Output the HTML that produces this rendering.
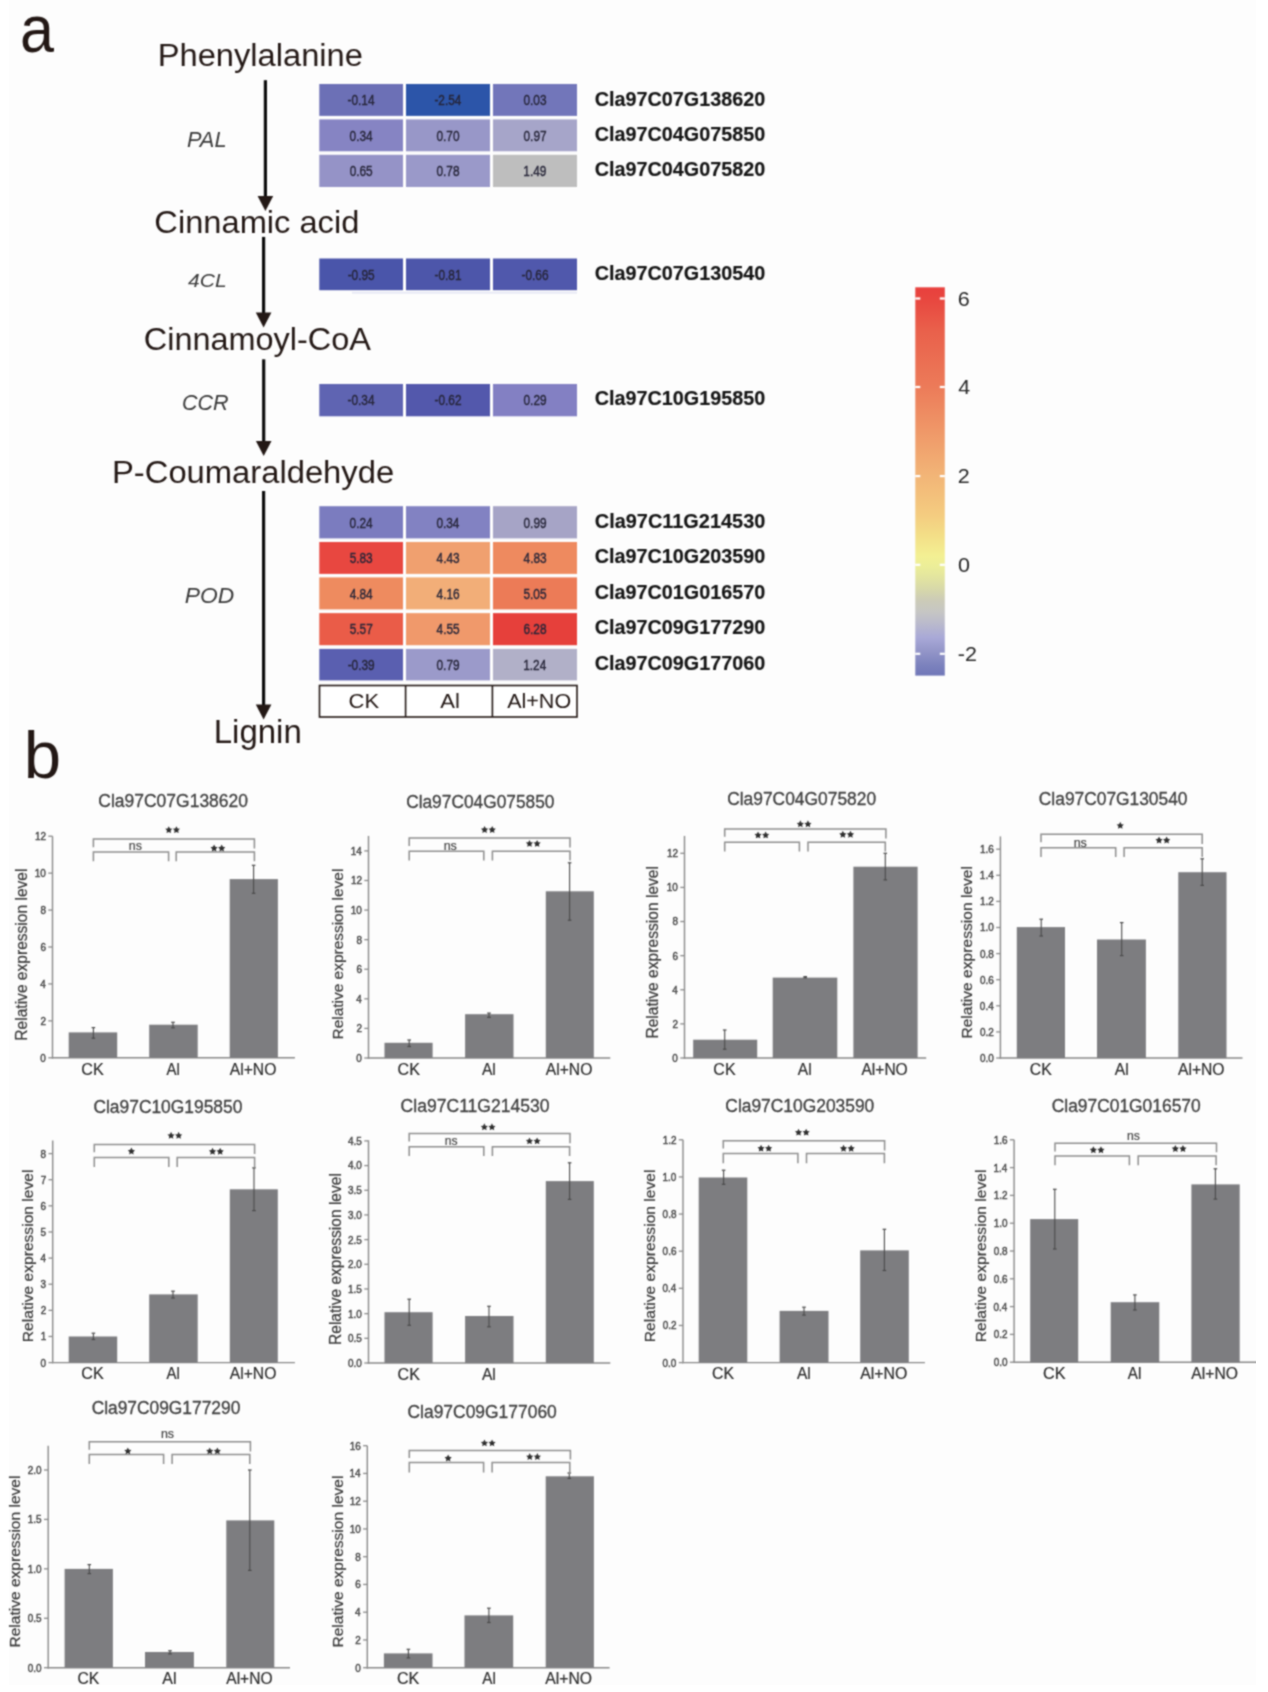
<!DOCTYPE html>
<html><head><meta charset="utf-8"><title>Figure</title>
<style>
html,body{margin:0;padding:0;background:#ffffff;}
svg{display:block;}
text{font-family:"Liberation Sans", sans-serif;}
</style></head>
<body>
<svg width="1268" height="1692" viewBox="0 0 1268 1692">
<rect x="0" y="0" width="1268" height="1692" fill="#ffffff"/>
<rect x="9" y="0" width="1247" height="1685" fill="#fdfdfd"/>
<defs><filter id="soft" x="0" y="0" width="1" height="1" color-interpolation-filters="sRGB"><feConvolveMatrix order="3" kernelMatrix="1 2 1 2 6.0 2 1 2 1" divisor="18.0" edgeMode="duplicate" preserveAlpha="false"/></filter></defs>
<g filter="url(#soft)">
<text x="20.10" y="52.00" font-size="66.50" font-weight="normal" font-style="normal" fill="#231815" textLength="33.97" lengthAdjust="spacingAndGlyphs">a</text>
<text x="23.84" y="778.00" font-size="66.50" font-weight="normal" font-style="normal" fill="#231815" textLength="37.33" lengthAdjust="spacingAndGlyphs">b</text>
<text x="157.71" y="66.30" font-size="31.27" font-weight="normal" font-style="normal" fill="#231815" textLength="205.20" lengthAdjust="spacingAndGlyphs">Phenylalanine</text>
<text x="154.37" y="232.60" font-size="32.15" font-weight="normal" font-style="normal" fill="#231815" textLength="204.99" lengthAdjust="spacingAndGlyphs">Cinnamic acid</text>
<text x="143.78" y="350.40" font-size="32.15" font-weight="normal" font-style="normal" fill="#231815" textLength="227.21" lengthAdjust="spacingAndGlyphs">Cinnamoyl-CoA</text>
<text x="112.00" y="482.50" font-size="31.42" font-weight="normal" font-style="normal" fill="#231815" textLength="282.12" lengthAdjust="spacingAndGlyphs">P-Coumaraldehyde</text>
<text x="213.78" y="742.80" font-size="32.73" font-weight="normal" font-style="normal" fill="#231815" textLength="88.02" lengthAdjust="spacingAndGlyphs">Lignin</text>
<text x="186.95" y="146.80" font-size="21.82" font-weight="normal" font-style="italic" fill="#3a3a3a" textLength="39.60" lengthAdjust="spacingAndGlyphs">PAL</text>
<text x="188.14" y="287.00" font-size="18.76" font-weight="normal" font-style="italic" fill="#3a3a3a" textLength="38.57" lengthAdjust="spacingAndGlyphs">4CL</text>
<text x="182.02" y="410.20" font-size="21.24" font-weight="normal" font-style="italic" fill="#3a3a3a" textLength="46.61" lengthAdjust="spacingAndGlyphs">CCR</text>
<text x="184.82" y="602.60" font-size="21.67" font-weight="normal" font-style="italic" fill="#3a3a3a" textLength="49.41" lengthAdjust="spacingAndGlyphs">POD</text>
<rect x="263.80" y="80.20" width="3.20" height="117.80" fill="#0d0d0d"/>
<path d="M257.60,196.00 L273.20,196.00 L265.40,211.00 Z" fill="#231815" stroke="none" stroke-width="1"/>
<rect x="262.00" y="236.90" width="3.20" height="77.60" fill="#0d0d0d"/>
<path d="M255.80,312.50 L271.40,312.50 L263.60,327.50 Z" fill="#231815" stroke="none" stroke-width="1"/>
<rect x="262.10" y="359.30" width="3.20" height="83.70" fill="#0d0d0d"/>
<path d="M255.90,441.00 L271.50,441.00 L263.70,456.00 Z" fill="#231815" stroke="none" stroke-width="1"/>
<rect x="262.00" y="491.00" width="3.20" height="215.50" fill="#0d0d0d"/>
<path d="M255.80,704.50 L271.40,704.50 L263.60,719.50 Z" fill="#231815" stroke="none" stroke-width="1"/>
<rect x="319.30" y="84.00" width="83.70" height="31.90" fill="#6c70b6"/>
<text x="347.55" y="105.15" font-size="15.00" font-weight="normal" font-style="normal" fill="#262538" textLength="27.01" lengthAdjust="spacingAndGlyphs" stroke="#262538" stroke-width="0.4">-0.14</text>
<rect x="406.00" y="84.00" width="84.00" height="31.90" fill="#2c55a9"/>
<text x="434.40" y="105.15" font-size="15.00" font-weight="normal" font-style="normal" fill="#262538" textLength="27.01" lengthAdjust="spacingAndGlyphs" stroke="#262538" stroke-width="0.4">-2.54</text>
<rect x="493.00" y="84.00" width="84.00" height="31.90" fill="#7276ba"/>
<text x="523.49" y="105.15" font-size="15.00" font-weight="normal" font-style="normal" fill="#262538" textLength="23.06" lengthAdjust="spacingAndGlyphs" stroke="#262538" stroke-width="0.4">0.03</text>
<text x="594.81" y="106.00" font-size="19.30" font-weight="bold" font-style="normal" fill="#141414" textLength="170.49" lengthAdjust="spacingAndGlyphs" stroke="#141414" stroke-width="0.15">Cla97C07G138620</text>
<rect x="319.30" y="119.40" width="83.70" height="31.90" fill="#8684c3"/>
<text x="349.55" y="140.55" font-size="15.00" font-weight="normal" font-style="normal" fill="#262538" textLength="23.06" lengthAdjust="spacingAndGlyphs" stroke="#262538" stroke-width="0.4">0.34</text>
<rect x="406.00" y="119.40" width="84.00" height="31.90" fill="#9897c8"/>
<text x="436.46" y="140.55" font-size="15.00" font-weight="normal" font-style="normal" fill="#262538" textLength="23.06" lengthAdjust="spacingAndGlyphs" stroke="#262538" stroke-width="0.4">0.70</text>
<rect x="493.00" y="119.40" width="84.00" height="31.90" fill="#a6a5c9"/>
<text x="523.54" y="140.55" font-size="15.00" font-weight="normal" font-style="normal" fill="#262538" textLength="23.06" lengthAdjust="spacingAndGlyphs" stroke="#262538" stroke-width="0.4">0.97</text>
<text x="594.81" y="141.00" font-size="19.30" font-weight="bold" font-style="normal" fill="#141414" textLength="170.49" lengthAdjust="spacingAndGlyphs" stroke="#141414" stroke-width="0.15">Cla97C04G075850</text>
<rect x="319.30" y="154.80" width="83.70" height="32.20" fill="#9593c7"/>
<text x="349.63" y="176.10" font-size="15.00" font-weight="normal" font-style="normal" fill="#262538" textLength="23.06" lengthAdjust="spacingAndGlyphs" stroke="#262538" stroke-width="0.4">0.65</text>
<rect x="406.00" y="154.80" width="84.00" height="32.20" fill="#9a99c9"/>
<text x="436.49" y="176.10" font-size="15.00" font-weight="normal" font-style="normal" fill="#262538" textLength="23.06" lengthAdjust="spacingAndGlyphs" stroke="#262538" stroke-width="0.4">0.78</text>
<rect x="493.00" y="154.80" width="84.00" height="32.20" fill="#bebebe"/>
<text x="523.30" y="176.10" font-size="15.00" font-weight="normal" font-style="normal" fill="#262538" textLength="23.06" lengthAdjust="spacingAndGlyphs" stroke="#262538" stroke-width="0.4">1.49</text>
<text x="594.81" y="176.00" font-size="19.30" font-weight="bold" font-style="normal" fill="#141414" textLength="170.49" lengthAdjust="spacingAndGlyphs" stroke="#141414" stroke-width="0.15">Cla97C04G075820</text>
<rect x="319.30" y="258.50" width="83.70" height="31.70" fill="#4a55aa"/>
<text x="347.63" y="279.55" font-size="15.00" font-weight="normal" font-style="normal" fill="#262538" textLength="27.01" lengthAdjust="spacingAndGlyphs" stroke="#262538" stroke-width="0.4">-0.95</text>
<rect x="406.00" y="258.50" width="84.00" height="31.70" fill="#4d56aa"/>
<text x="434.52" y="279.55" font-size="15.00" font-weight="normal" font-style="normal" fill="#262538" textLength="27.01" lengthAdjust="spacingAndGlyphs" stroke="#262538" stroke-width="0.4">-0.81</text>
<rect x="493.00" y="258.50" width="84.00" height="31.70" fill="#5058ac"/>
<text x="521.49" y="279.55" font-size="15.00" font-weight="normal" font-style="normal" fill="#262538" textLength="27.01" lengthAdjust="spacingAndGlyphs" stroke="#262538" stroke-width="0.4">-0.66</text>
<text x="594.81" y="280.20" font-size="19.30" font-weight="bold" font-style="normal" fill="#141414" textLength="170.49" lengthAdjust="spacingAndGlyphs" stroke="#141414" stroke-width="0.15">Cla97C07G130540</text>
<rect x="319.30" y="384.00" width="83.70" height="32.30" fill="#5f64b2"/>
<text x="347.55" y="405.35" font-size="15.00" font-weight="normal" font-style="normal" fill="#262538" textLength="27.01" lengthAdjust="spacingAndGlyphs" stroke="#262538" stroke-width="0.4">-0.34</text>
<rect x="406.00" y="384.00" width="84.00" height="32.30" fill="#5358ac"/>
<text x="434.54" y="405.35" font-size="15.00" font-weight="normal" font-style="normal" fill="#262538" textLength="27.01" lengthAdjust="spacingAndGlyphs" stroke="#262538" stroke-width="0.4">-0.62</text>
<rect x="493.00" y="384.00" width="84.00" height="32.30" fill="#8380c3"/>
<text x="523.51" y="405.35" font-size="15.00" font-weight="normal" font-style="normal" fill="#262538" textLength="23.06" lengthAdjust="spacingAndGlyphs" stroke="#262538" stroke-width="0.4">0.29</text>
<text x="594.81" y="405.00" font-size="19.30" font-weight="bold" font-style="normal" fill="#141414" textLength="170.49" lengthAdjust="spacingAndGlyphs" stroke="#141414" stroke-width="0.15">Cla97C10G195850</text>
<rect x="319.30" y="506.20" width="83.70" height="32.20" fill="#7b7cbf"/>
<text x="349.55" y="527.50" font-size="15.00" font-weight="normal" font-style="normal" fill="#262538" textLength="23.06" lengthAdjust="spacingAndGlyphs" stroke="#262538" stroke-width="0.4">0.24</text>
<rect x="406.00" y="506.20" width="84.00" height="32.20" fill="#8282c2"/>
<text x="436.40" y="527.50" font-size="15.00" font-weight="normal" font-style="normal" fill="#262538" textLength="23.06" lengthAdjust="spacingAndGlyphs" stroke="#262538" stroke-width="0.4">0.34</text>
<rect x="493.00" y="506.20" width="84.00" height="32.20" fill="#a6a4c6"/>
<text x="523.51" y="527.50" font-size="15.00" font-weight="normal" font-style="normal" fill="#262538" textLength="23.06" lengthAdjust="spacingAndGlyphs" stroke="#262538" stroke-width="0.4">0.99</text>
<text x="594.80" y="527.80" font-size="19.30" font-weight="bold" font-style="normal" fill="#141414" textLength="170.50" lengthAdjust="spacingAndGlyphs" stroke="#141414" stroke-width="0.15">Cla97C11G214530</text>
<rect x="319.30" y="542.00" width="83.70" height="31.90" fill="#e84740"/>
<text x="349.64" y="563.15" font-size="15.00" font-weight="normal" font-style="normal" fill="#262538" textLength="23.06" lengthAdjust="spacingAndGlyphs" stroke="#262538" stroke-width="0.4">5.83</text>
<rect x="406.00" y="542.00" width="84.00" height="31.90" fill="#f0a06f"/>
<text x="436.59" y="563.15" font-size="15.00" font-weight="normal" font-style="normal" fill="#262538" textLength="23.06" lengthAdjust="spacingAndGlyphs" stroke="#262538" stroke-width="0.4">4.43</text>
<rect x="493.00" y="542.00" width="84.00" height="31.90" fill="#ee8a5f"/>
<text x="523.59" y="563.15" font-size="15.00" font-weight="normal" font-style="normal" fill="#262538" textLength="23.06" lengthAdjust="spacingAndGlyphs" stroke="#262538" stroke-width="0.4">4.83</text>
<text x="594.81" y="563.40" font-size="19.30" font-weight="bold" font-style="normal" fill="#141414" textLength="170.49" lengthAdjust="spacingAndGlyphs" stroke="#141414" stroke-width="0.15">Cla97C10G203590</text>
<rect x="319.30" y="577.40" width="83.70" height="32.00" fill="#ee8b5f"/>
<text x="349.66" y="598.60" font-size="15.00" font-weight="normal" font-style="normal" fill="#262538" textLength="23.06" lengthAdjust="spacingAndGlyphs" stroke="#262538" stroke-width="0.4">4.84</text>
<rect x="406.00" y="577.40" width="84.00" height="32.00" fill="#f2ae78"/>
<text x="436.59" y="598.60" font-size="15.00" font-weight="normal" font-style="normal" fill="#262538" textLength="23.06" lengthAdjust="spacingAndGlyphs" stroke="#262538" stroke-width="0.4">4.16</text>
<rect x="493.00" y="577.40" width="84.00" height="32.00" fill="#ec7b57"/>
<text x="523.48" y="598.60" font-size="15.00" font-weight="normal" font-style="normal" fill="#262538" textLength="23.06" lengthAdjust="spacingAndGlyphs" stroke="#262538" stroke-width="0.4">5.05</text>
<text x="594.81" y="598.90" font-size="19.30" font-weight="bold" font-style="normal" fill="#141414" textLength="170.49" lengthAdjust="spacingAndGlyphs" stroke="#141414" stroke-width="0.15">Cla97C01G016570</text>
<rect x="319.30" y="613.10" width="83.70" height="32.10" fill="#ea5c48"/>
<text x="349.69" y="634.35" font-size="15.00" font-weight="normal" font-style="normal" fill="#262538" textLength="23.06" lengthAdjust="spacingAndGlyphs" stroke="#262538" stroke-width="0.4">5.57</text>
<rect x="406.00" y="613.10" width="84.00" height="32.10" fill="#f0996b"/>
<text x="436.58" y="634.35" font-size="15.00" font-weight="normal" font-style="normal" fill="#262538" textLength="23.06" lengthAdjust="spacingAndGlyphs" stroke="#262538" stroke-width="0.4">4.55</text>
<rect x="493.00" y="613.10" width="84.00" height="32.10" fill="#e6403b"/>
<text x="523.43" y="634.35" font-size="15.00" font-weight="normal" font-style="normal" fill="#262538" textLength="23.06" lengthAdjust="spacingAndGlyphs" stroke="#262538" stroke-width="0.4">6.28</text>
<text x="594.81" y="634.40" font-size="19.30" font-weight="bold" font-style="normal" fill="#141414" textLength="170.49" lengthAdjust="spacingAndGlyphs" stroke="#141414" stroke-width="0.15">Cla97C09G177290</text>
<rect x="319.30" y="648.90" width="83.70" height="31.50" fill="#5a5fb0"/>
<text x="347.66" y="669.85" font-size="15.00" font-weight="normal" font-style="normal" fill="#262538" textLength="27.01" lengthAdjust="spacingAndGlyphs" stroke="#262538" stroke-width="0.4">-0.39</text>
<rect x="406.00" y="648.90" width="84.00" height="31.50" fill="#9b9aca"/>
<text x="436.51" y="669.85" font-size="15.00" font-weight="normal" font-style="normal" fill="#262538" textLength="23.06" lengthAdjust="spacingAndGlyphs" stroke="#262538" stroke-width="0.4">0.79</text>
<rect x="493.00" y="648.90" width="84.00" height="31.50" fill="#b1b0c8"/>
<text x="523.19" y="669.85" font-size="15.00" font-weight="normal" font-style="normal" fill="#262538" textLength="23.06" lengthAdjust="spacingAndGlyphs" stroke="#262538" stroke-width="0.4">1.24</text>
<text x="594.81" y="669.90" font-size="19.30" font-weight="bold" font-style="normal" fill="#141414" textLength="170.49" lengthAdjust="spacingAndGlyphs" stroke="#141414" stroke-width="0.15">Cla97C09G177060</text>
<line x1="352.00" y1="292.80" x2="577.00" y2="292.80" stroke="#d6d9ee" stroke-width="1.0"/>
<rect x="319.5" y="685.5" width="257.5" height="31.5" fill="#fff" stroke="#231815" stroke-width="1.6"/>
<line x1="405.60" y1="685.50" x2="405.60" y2="717.00" stroke="#231815" stroke-width="1.6"/>
<line x1="492.40" y1="685.50" x2="492.40" y2="717.00" stroke="#231815" stroke-width="1.6"/>
<text x="348.60" y="708.30" font-size="20.50" font-weight="normal" font-style="normal" fill="#231815" textLength="30.56" lengthAdjust="spacingAndGlyphs">CK</text>
<text x="440.24" y="708.30" font-size="20.50" font-weight="normal" font-style="normal" fill="#231815" textLength="19.63" lengthAdjust="spacingAndGlyphs">Al</text>
<text x="507.15" y="708.30" font-size="20.50" font-weight="normal" font-style="normal" fill="#231815" textLength="63.99" lengthAdjust="spacingAndGlyphs">Al+NO</text>
<defs><linearGradient id="cb" x1="0" y1="0" x2="0" y2="1">
<stop offset="0.0000" stop-color="#e8403d"/>
<stop offset="0.0288" stop-color="#e8463f"/>
<stop offset="0.1100" stop-color="#e9604b"/>
<stop offset="0.2568" stop-color="#ec7b59"/>
<stop offset="0.3675" stop-color="#ef9768"/>
<stop offset="0.4860" stop-color="#f2b577"/>
<stop offset="0.5349" stop-color="#f3c07b"/>
<stop offset="0.5864" stop-color="#f4cc80"/>
<stop offset="0.6379" stop-color="#f3de87"/>
<stop offset="0.6920" stop-color="#f3f093"/>
<stop offset="0.7177" stop-color="#ecee98"/>
<stop offset="0.7486" stop-color="#e2e4a0"/>
<stop offset="0.7796" stop-color="#d6d7aa"/>
<stop offset="0.8053" stop-color="#cccbb7"/>
<stop offset="0.8362" stop-color="#c6c6c4"/>
<stop offset="0.8697" stop-color="#b8b8cd"/>
<stop offset="0.9032" stop-color="#a8a8d7"/>
<stop offset="0.9341" stop-color="#9597c9"/>
<stop offset="0.9727" stop-color="#7c82bd"/>
<stop offset="1.0000" stop-color="#7077b8"/>
</linearGradient></defs>
<rect x="915.30" y="287.30" width="29.50" height="388.30" fill="url(#cb)"/>
<rect x="915.30" y="297.40" width="5.00" height="2.20" fill="#ffffff"/>
<rect x="939.80" y="297.40" width="5.00" height="2.20" fill="#ffffff"/>
<text x="957.72" y="305.50" font-size="20.50" font-weight="normal" font-style="normal" fill="#262626" textLength="11.97" lengthAdjust="spacingAndGlyphs">6</text>
<rect x="915.30" y="385.90" width="5.00" height="2.20" fill="#ffffff"/>
<rect x="939.80" y="385.90" width="5.00" height="2.20" fill="#ffffff"/>
<text x="958.32" y="394.00" font-size="20.50" font-weight="normal" font-style="normal" fill="#262626" textLength="11.97" lengthAdjust="spacingAndGlyphs">4</text>
<rect x="915.30" y="475.00" width="5.00" height="2.20" fill="#ffffff"/>
<rect x="939.80" y="475.00" width="5.00" height="2.20" fill="#ffffff"/>
<text x="957.72" y="483.10" font-size="20.50" font-weight="normal" font-style="normal" fill="#262626" textLength="11.97" lengthAdjust="spacingAndGlyphs">2</text>
<rect x="915.30" y="563.70" width="5.00" height="2.20" fill="#ffffff"/>
<rect x="939.80" y="563.70" width="5.00" height="2.20" fill="#ffffff"/>
<text x="957.94" y="571.80" font-size="20.50" font-weight="normal" font-style="normal" fill="#262626" textLength="11.97" lengthAdjust="spacingAndGlyphs">0</text>
<rect x="915.30" y="652.70" width="5.00" height="2.20" fill="#ffffff"/>
<rect x="939.80" y="652.70" width="5.00" height="2.20" fill="#ffffff"/>
<text x="957.83" y="660.80" font-size="20.50" font-weight="normal" font-style="normal" fill="#262626" textLength="19.14" lengthAdjust="spacingAndGlyphs">-2</text>
<text x="98.33" y="807.00" font-size="17.60" font-weight="normal" font-style="normal" fill="#3e3e3e" textLength="149.67" lengthAdjust="spacingAndGlyphs" stroke="#3e3e3e" stroke-width="0.3">Cla97C07G138620</text>
<text transform="translate(27.41,1040.68) rotate(-90)" x="0" y="0" font-size="15.87" fill="#383838" textLength="172.12" lengthAdjust="spacingAndGlyphs" stroke="#383838" stroke-width="0.2">Relative expression level</text>
<line x1="52.50" y1="836.20" x2="52.50" y2="1058.50" stroke="#8a8a8a" stroke-width="1.4"/>
<line x1="51.80" y1="1057.80" x2="294.90" y2="1057.80" stroke="#8a8a8a" stroke-width="1.4"/>
<line x1="48.30" y1="1057.80" x2="52.50" y2="1057.80" stroke="#8a8a8a" stroke-width="1.3"/>
<text x="40.36" y="1061.70" font-size="10.80" font-weight="normal" font-style="normal" fill="#484848" textLength="5.53" lengthAdjust="spacingAndGlyphs" stroke="#484848" stroke-width="0.45">0</text>
<line x1="48.30" y1="1020.87" x2="52.50" y2="1020.87" stroke="#8a8a8a" stroke-width="1.3"/>
<text x="40.48" y="1024.77" font-size="10.80" font-weight="normal" font-style="normal" fill="#484848" textLength="5.53" lengthAdjust="spacingAndGlyphs" stroke="#484848" stroke-width="0.45">2</text>
<line x1="48.30" y1="983.93" x2="52.50" y2="983.93" stroke="#8a8a8a" stroke-width="1.3"/>
<text x="40.26" y="987.83" font-size="10.80" font-weight="normal" font-style="normal" fill="#484848" textLength="5.53" lengthAdjust="spacingAndGlyphs" stroke="#484848" stroke-width="0.45">4</text>
<line x1="48.30" y1="947.00" x2="52.50" y2="947.00" stroke="#8a8a8a" stroke-width="1.3"/>
<text x="40.41" y="950.90" font-size="10.80" font-weight="normal" font-style="normal" fill="#484848" textLength="5.53" lengthAdjust="spacingAndGlyphs" stroke="#484848" stroke-width="0.45">6</text>
<line x1="48.30" y1="910.07" x2="52.50" y2="910.07" stroke="#8a8a8a" stroke-width="1.3"/>
<text x="40.41" y="913.97" font-size="10.80" font-weight="normal" font-style="normal" fill="#484848" textLength="5.53" lengthAdjust="spacingAndGlyphs" stroke="#484848" stroke-width="0.45">8</text>
<line x1="48.30" y1="873.13" x2="52.50" y2="873.13" stroke="#8a8a8a" stroke-width="1.3"/>
<text x="34.84" y="877.03" font-size="10.80" font-weight="normal" font-style="normal" fill="#484848" textLength="11.05" lengthAdjust="spacingAndGlyphs" stroke="#484848" stroke-width="0.45">10</text>
<line x1="48.30" y1="836.20" x2="52.50" y2="836.20" stroke="#8a8a8a" stroke-width="1.3"/>
<text x="34.97" y="840.10" font-size="10.80" font-weight="normal" font-style="normal" fill="#484848" textLength="11.05" lengthAdjust="spacingAndGlyphs" stroke="#484848" stroke-width="0.45">12</text>
<rect x="68.70" y="1032.40" width="48.50" height="25.40" fill="#7d7d80"/>
<rect x="149.20" y="1024.70" width="48.50" height="33.10" fill="#7d7d80"/>
<rect x="229.70" y="879.10" width="48.20" height="178.70" fill="#7d7d80"/>
<line x1="93.40" y1="1027.60" x2="93.40" y2="1038.20" stroke="#4a4a4a" stroke-width="1.1"/>
<line x1="91.60" y1="1027.60" x2="95.20" y2="1027.60" stroke="#4a4a4a" stroke-width="1.2"/>
<line x1="91.60" y1="1038.20" x2="95.20" y2="1038.20" stroke="#4a4a4a" stroke-width="1.2"/>
<line x1="173.00" y1="1022.30" x2="173.00" y2="1027.80" stroke="#4a4a4a" stroke-width="1.1"/>
<line x1="171.20" y1="1022.30" x2="174.80" y2="1022.30" stroke="#4a4a4a" stroke-width="1.2"/>
<line x1="171.20" y1="1027.80" x2="174.80" y2="1027.80" stroke="#4a4a4a" stroke-width="1.2"/>
<line x1="253.60" y1="865.30" x2="253.60" y2="893.30" stroke="#4a4a4a" stroke-width="1.1"/>
<line x1="251.80" y1="865.30" x2="255.40" y2="865.30" stroke="#4a4a4a" stroke-width="1.2"/>
<line x1="251.80" y1="893.30" x2="255.40" y2="893.30" stroke="#4a4a4a" stroke-width="1.2"/>
<path d="M93.40,847.30 L93.40,839.00 L254.40,839.00 L254.40,848.60" fill="none" stroke="#8e8e8e" stroke-width="1.5"/>
<path d="M93.40,861.20 L93.40,851.90 L168.60,851.90 L168.60,861.20" fill="none" stroke="#8e8e8e" stroke-width="1.5"/>
<path d="M176.20,861.20 L176.20,851.90 L254.40,851.90 L254.40,861.20" fill="none" stroke="#8e8e8e" stroke-width="1.5"/>
<polygon points="168.80,826.22 169.92,828.48 172.41,828.85 170.61,830.61 171.03,833.09 168.80,831.92 166.57,833.09 166.99,830.61 165.19,828.85 167.68,828.48" fill="#2e2e2e"/>
<polygon points="176.40,826.22 177.52,828.48 180.01,828.85 178.21,830.61 178.63,833.09 176.40,831.92 174.17,833.09 174.59,830.61 172.79,828.85 175.28,828.48" fill="#2e2e2e"/>
<text x="128.76" y="849.60" font-size="13.00" font-weight="normal" font-style="normal" fill="#444444" textLength="13.08" lengthAdjust="spacingAndGlyphs" stroke="#444444" stroke-width="0.2">ns</text>
<polygon points="214.10,844.57 215.22,846.83 217.71,847.20 215.91,848.96 216.33,851.44 214.10,850.27 211.87,851.44 212.29,848.96 210.49,847.20 212.98,846.83" fill="#2e2e2e"/>
<polygon points="221.70,844.57 222.82,846.83 225.31,847.20 223.51,848.96 223.93,851.44 221.70,850.27 219.47,851.44 219.89,848.96 218.09,847.20 220.58,846.83" fill="#2e2e2e"/>
<text x="81.19" y="1074.60" font-size="16.30" font-weight="normal" font-style="normal" fill="#2c2c2c" textLength="22.50" lengthAdjust="spacingAndGlyphs" stroke="#2c2c2c" stroke-width="0.2">CK</text>
<text x="166.56" y="1074.60" font-size="16.30" font-weight="normal" font-style="normal" fill="#2c2c2c" textLength="13.34" lengthAdjust="spacingAndGlyphs" stroke="#2c2c2c" stroke-width="0.2">Al</text>
<text x="229.76" y="1074.60" font-size="16.30" font-weight="normal" font-style="normal" fill="#2c2c2c" textLength="46.59" lengthAdjust="spacingAndGlyphs" stroke="#2c2c2c" stroke-width="0.2">Al+NO</text>
<text x="406.13" y="808.40" font-size="17.60" font-weight="normal" font-style="normal" fill="#3e3e3e" textLength="148.36" lengthAdjust="spacingAndGlyphs" stroke="#3e3e3e" stroke-width="0.3">Cla97C04G075850</text>
<text transform="translate(342.86,1039.47) rotate(-90)" x="0" y="0" font-size="15.12" fill="#383838" textLength="170.80" lengthAdjust="spacingAndGlyphs" stroke="#383838" stroke-width="0.2">Relative expression level</text>
<line x1="368.50" y1="835.90" x2="368.50" y2="1058.70" stroke="#8a8a8a" stroke-width="1.4"/>
<line x1="367.80" y1="1058.00" x2="610.30" y2="1058.00" stroke="#8a8a8a" stroke-width="1.4"/>
<line x1="364.30" y1="1058.00" x2="368.50" y2="1058.00" stroke="#8a8a8a" stroke-width="1.3"/>
<text x="356.36" y="1061.90" font-size="10.80" font-weight="normal" font-style="normal" fill="#484848" textLength="5.53" lengthAdjust="spacingAndGlyphs" stroke="#484848" stroke-width="0.45">0</text>
<line x1="364.30" y1="1028.41" x2="368.50" y2="1028.41" stroke="#8a8a8a" stroke-width="1.3"/>
<text x="356.48" y="1032.31" font-size="10.80" font-weight="normal" font-style="normal" fill="#484848" textLength="5.53" lengthAdjust="spacingAndGlyphs" stroke="#484848" stroke-width="0.45">2</text>
<line x1="364.30" y1="998.83" x2="368.50" y2="998.83" stroke="#8a8a8a" stroke-width="1.3"/>
<text x="356.26" y="1002.73" font-size="10.80" font-weight="normal" font-style="normal" fill="#484848" textLength="5.53" lengthAdjust="spacingAndGlyphs" stroke="#484848" stroke-width="0.45">4</text>
<line x1="364.30" y1="969.24" x2="368.50" y2="969.24" stroke="#8a8a8a" stroke-width="1.3"/>
<text x="356.41" y="973.14" font-size="10.80" font-weight="normal" font-style="normal" fill="#484848" textLength="5.53" lengthAdjust="spacingAndGlyphs" stroke="#484848" stroke-width="0.45">6</text>
<line x1="364.30" y1="939.66" x2="368.50" y2="939.66" stroke="#8a8a8a" stroke-width="1.3"/>
<text x="356.41" y="943.56" font-size="10.80" font-weight="normal" font-style="normal" fill="#484848" textLength="5.53" lengthAdjust="spacingAndGlyphs" stroke="#484848" stroke-width="0.45">8</text>
<line x1="364.30" y1="910.07" x2="368.50" y2="910.07" stroke="#8a8a8a" stroke-width="1.3"/>
<text x="350.84" y="913.97" font-size="10.80" font-weight="normal" font-style="normal" fill="#484848" textLength="11.05" lengthAdjust="spacingAndGlyphs" stroke="#484848" stroke-width="0.45">10</text>
<line x1="364.30" y1="880.49" x2="368.50" y2="880.49" stroke="#8a8a8a" stroke-width="1.3"/>
<text x="350.97" y="884.39" font-size="10.80" font-weight="normal" font-style="normal" fill="#484848" textLength="11.05" lengthAdjust="spacingAndGlyphs" stroke="#484848" stroke-width="0.45">12</text>
<line x1="364.30" y1="850.90" x2="368.50" y2="850.90" stroke="#8a8a8a" stroke-width="1.3"/>
<text x="350.74" y="854.80" font-size="10.80" font-weight="normal" font-style="normal" fill="#484848" textLength="11.05" lengthAdjust="spacingAndGlyphs" stroke="#484848" stroke-width="0.45">14</text>
<rect x="384.50" y="1042.80" width="48.10" height="15.20" fill="#7d7d80"/>
<rect x="465.10" y="1014.20" width="48.40" height="43.80" fill="#7d7d80"/>
<rect x="545.80" y="891.30" width="48.00" height="166.70" fill="#7d7d80"/>
<line x1="409.20" y1="1040.00" x2="409.20" y2="1046.50" stroke="#4a4a4a" stroke-width="1.1"/>
<line x1="407.40" y1="1040.00" x2="411.00" y2="1040.00" stroke="#4a4a4a" stroke-width="1.2"/>
<line x1="407.40" y1="1046.50" x2="411.00" y2="1046.50" stroke="#4a4a4a" stroke-width="1.2"/>
<line x1="489.00" y1="1013.10" x2="489.00" y2="1017.40" stroke="#4a4a4a" stroke-width="1.1"/>
<line x1="487.20" y1="1013.10" x2="490.80" y2="1013.10" stroke="#4a4a4a" stroke-width="1.2"/>
<line x1="487.20" y1="1017.40" x2="490.80" y2="1017.40" stroke="#4a4a4a" stroke-width="1.2"/>
<line x1="569.60" y1="862.80" x2="569.60" y2="920.20" stroke="#4a4a4a" stroke-width="1.1"/>
<line x1="567.80" y1="862.80" x2="571.40" y2="862.80" stroke="#4a4a4a" stroke-width="1.2"/>
<line x1="567.80" y1="920.20" x2="571.40" y2="920.20" stroke="#4a4a4a" stroke-width="1.2"/>
<path d="M409.20,846.00 L409.20,837.90 L570.00,837.90 L570.00,847.40" fill="none" stroke="#8e8e8e" stroke-width="1.5"/>
<path d="M409.20,860.60 L409.20,851.20 L483.80,851.20 L483.80,860.60" fill="none" stroke="#8e8e8e" stroke-width="1.5"/>
<path d="M492.40,860.60 L492.40,851.20 L570.00,851.20 L570.00,860.60" fill="none" stroke="#8e8e8e" stroke-width="1.5"/>
<polygon points="484.60,826.07 485.72,828.33 488.21,828.70 486.41,830.46 486.83,832.94 484.60,831.77 482.37,832.94 482.79,830.46 480.99,828.70 483.48,828.33" fill="#2e2e2e"/>
<polygon points="492.20,826.07 493.32,828.33 495.81,828.70 494.01,830.46 494.43,832.94 492.20,831.77 489.97,832.94 490.39,830.46 488.59,828.70 491.08,828.33" fill="#2e2e2e"/>
<text x="443.66" y="850.20" font-size="13.00" font-weight="normal" font-style="normal" fill="#444444" textLength="13.20" lengthAdjust="spacingAndGlyphs" stroke="#444444" stroke-width="0.2">ns</text>
<polygon points="529.50,839.97 530.62,842.23 533.11,842.60 531.31,844.36 531.73,846.84 529.50,845.67 527.27,846.84 527.69,844.36 525.89,842.60 528.38,842.23" fill="#2e2e2e"/>
<polygon points="537.10,839.97 538.22,842.23 540.71,842.60 538.91,844.36 539.33,846.84 537.10,845.67 534.87,846.84 535.29,844.36 533.49,842.60 535.98,842.23" fill="#2e2e2e"/>
<text x="397.59" y="1074.90" font-size="16.30" font-weight="normal" font-style="normal" fill="#2c2c2c" textLength="22.39" lengthAdjust="spacingAndGlyphs" stroke="#2c2c2c" stroke-width="0.2">CK</text>
<text x="481.96" y="1074.90" font-size="16.30" font-weight="normal" font-style="normal" fill="#2c2c2c" textLength="13.88" lengthAdjust="spacingAndGlyphs" stroke="#2c2c2c" stroke-width="0.2">Al</text>
<text x="545.76" y="1074.90" font-size="16.30" font-weight="normal" font-style="normal" fill="#2c2c2c" textLength="46.59" lengthAdjust="spacingAndGlyphs" stroke="#2c2c2c" stroke-width="0.2">Al+NO</text>
<text x="727.13" y="804.70" font-size="17.60" font-weight="normal" font-style="normal" fill="#3e3e3e" textLength="148.96" lengthAdjust="spacingAndGlyphs" stroke="#3e3e3e" stroke-width="0.3">Cla97C04G075820</text>
<text transform="translate(658.25,1038.59) rotate(-90)" x="0" y="0" font-size="15.66" fill="#383838" textLength="172.62" lengthAdjust="spacingAndGlyphs" stroke="#383838" stroke-width="0.2">Relative expression level</text>
<line x1="684.50" y1="835.90" x2="684.50" y2="1058.70" stroke="#8a8a8a" stroke-width="1.4"/>
<line x1="683.80" y1="1058.00" x2="926.20" y2="1058.00" stroke="#8a8a8a" stroke-width="1.4"/>
<line x1="680.30" y1="1058.00" x2="684.50" y2="1058.00" stroke="#8a8a8a" stroke-width="1.3"/>
<text x="672.36" y="1061.90" font-size="10.80" font-weight="normal" font-style="normal" fill="#484848" textLength="5.53" lengthAdjust="spacingAndGlyphs" stroke="#484848" stroke-width="0.45">0</text>
<line x1="680.30" y1="1023.88" x2="684.50" y2="1023.88" stroke="#8a8a8a" stroke-width="1.3"/>
<text x="672.48" y="1027.78" font-size="10.80" font-weight="normal" font-style="normal" fill="#484848" textLength="5.53" lengthAdjust="spacingAndGlyphs" stroke="#484848" stroke-width="0.45">2</text>
<line x1="680.30" y1="989.77" x2="684.50" y2="989.77" stroke="#8a8a8a" stroke-width="1.3"/>
<text x="672.26" y="993.67" font-size="10.80" font-weight="normal" font-style="normal" fill="#484848" textLength="5.53" lengthAdjust="spacingAndGlyphs" stroke="#484848" stroke-width="0.45">4</text>
<line x1="680.30" y1="955.65" x2="684.50" y2="955.65" stroke="#8a8a8a" stroke-width="1.3"/>
<text x="672.41" y="959.55" font-size="10.80" font-weight="normal" font-style="normal" fill="#484848" textLength="5.53" lengthAdjust="spacingAndGlyphs" stroke="#484848" stroke-width="0.45">6</text>
<line x1="680.30" y1="921.53" x2="684.50" y2="921.53" stroke="#8a8a8a" stroke-width="1.3"/>
<text x="672.41" y="925.43" font-size="10.80" font-weight="normal" font-style="normal" fill="#484848" textLength="5.53" lengthAdjust="spacingAndGlyphs" stroke="#484848" stroke-width="0.45">8</text>
<line x1="680.30" y1="887.42" x2="684.50" y2="887.42" stroke="#8a8a8a" stroke-width="1.3"/>
<text x="666.84" y="891.32" font-size="10.80" font-weight="normal" font-style="normal" fill="#484848" textLength="11.05" lengthAdjust="spacingAndGlyphs" stroke="#484848" stroke-width="0.45">10</text>
<line x1="680.30" y1="853.30" x2="684.50" y2="853.30" stroke="#8a8a8a" stroke-width="1.3"/>
<text x="666.97" y="857.20" font-size="10.80" font-weight="normal" font-style="normal" fill="#484848" textLength="11.05" lengthAdjust="spacingAndGlyphs" stroke="#484848" stroke-width="0.45">12</text>
<rect x="693.20" y="1039.70" width="64.00" height="18.30" fill="#7d7d80"/>
<rect x="772.70" y="977.60" width="64.60" height="80.40" fill="#7d7d80"/>
<rect x="853.40" y="866.70" width="64.20" height="191.30" fill="#7d7d80"/>
<line x1="724.70" y1="1030.00" x2="724.70" y2="1049.20" stroke="#4a4a4a" stroke-width="1.1"/>
<line x1="722.90" y1="1030.00" x2="726.50" y2="1030.00" stroke="#4a4a4a" stroke-width="1.2"/>
<line x1="722.90" y1="1049.20" x2="726.50" y2="1049.20" stroke="#4a4a4a" stroke-width="1.2"/>
<line x1="805.20" y1="976.60" x2="805.20" y2="977.80" stroke="#4a4a4a" stroke-width="1.1"/>
<line x1="803.40" y1="976.60" x2="807.00" y2="976.60" stroke="#4a4a4a" stroke-width="1.2"/>
<line x1="803.40" y1="977.80" x2="807.00" y2="977.80" stroke="#4a4a4a" stroke-width="1.2"/>
<line x1="885.30" y1="853.30" x2="885.30" y2="879.90" stroke="#4a4a4a" stroke-width="1.1"/>
<line x1="883.50" y1="853.30" x2="887.10" y2="853.30" stroke="#4a4a4a" stroke-width="1.2"/>
<line x1="883.50" y1="879.90" x2="887.10" y2="879.90" stroke="#4a4a4a" stroke-width="1.2"/>
<path d="M724.70,836.80 L724.70,829.10 L885.90,829.10 L885.90,838.60" fill="none" stroke="#8e8e8e" stroke-width="1.5"/>
<path d="M724.70,851.50 L724.70,842.30 L799.40,842.30 L799.40,851.50" fill="none" stroke="#8e8e8e" stroke-width="1.5"/>
<path d="M808.00,851.50 L808.00,842.30 L885.30,842.30 L885.30,851.50" fill="none" stroke="#8e8e8e" stroke-width="1.5"/>
<polygon points="800.35,820.37 801.47,822.63 803.96,823.00 802.16,824.76 802.58,827.24 800.35,826.07 798.12,827.24 798.54,824.76 796.74,823.00 799.23,822.63" fill="#2e2e2e"/>
<polygon points="807.95,820.37 809.07,822.63 811.56,823.00 809.76,824.76 810.18,827.24 807.95,826.07 805.72,827.24 806.14,824.76 804.34,823.00 806.83,822.63" fill="#2e2e2e"/>
<polygon points="758.05,831.47 759.17,833.73 761.66,834.10 759.86,835.86 760.28,838.34 758.05,837.17 755.82,838.34 756.24,835.86 754.44,834.10 756.93,833.73" fill="#2e2e2e"/>
<polygon points="765.65,831.47 766.77,833.73 769.26,834.10 767.46,835.86 767.88,838.34 765.65,837.17 763.42,838.34 763.84,835.86 762.04,834.10 764.53,833.73" fill="#2e2e2e"/>
<polygon points="842.85,830.77 843.97,833.03 846.46,833.40 844.66,835.16 845.08,837.64 842.85,836.47 840.62,837.64 841.04,835.16 839.24,833.40 841.73,833.03" fill="#2e2e2e"/>
<polygon points="850.45,830.77 851.57,833.03 854.06,833.40 852.26,835.16 852.68,837.64 850.45,836.47 848.22,837.64 848.64,835.16 846.84,833.40 849.33,833.03" fill="#2e2e2e"/>
<text x="713.30" y="1074.80" font-size="16.30" font-weight="normal" font-style="normal" fill="#2c2c2c" textLength="22.29" lengthAdjust="spacingAndGlyphs" stroke="#2c2c2c" stroke-width="0.2">CK</text>
<text x="797.86" y="1074.80" font-size="16.30" font-weight="normal" font-style="normal" fill="#2c2c2c" textLength="13.88" lengthAdjust="spacingAndGlyphs" stroke="#2c2c2c" stroke-width="0.2">Al</text>
<text x="861.46" y="1074.80" font-size="16.30" font-weight="normal" font-style="normal" fill="#2c2c2c" textLength="46.29" lengthAdjust="spacingAndGlyphs" stroke="#2c2c2c" stroke-width="0.2">Al+NO</text>
<text x="1038.83" y="804.70" font-size="17.60" font-weight="normal" font-style="normal" fill="#3e3e3e" textLength="148.66" lengthAdjust="spacingAndGlyphs" stroke="#3e3e3e" stroke-width="0.3">Cla97C07G130540</text>
<text transform="translate(971.80,1038.59) rotate(-90)" x="0" y="0" font-size="15.44" fill="#383838" textLength="172.62" lengthAdjust="spacingAndGlyphs" stroke="#383838" stroke-width="0.2">Relative expression level</text>
<line x1="1000.40" y1="836.40" x2="1000.40" y2="1058.70" stroke="#8a8a8a" stroke-width="1.4"/>
<line x1="999.70" y1="1058.00" x2="1242.50" y2="1058.00" stroke="#8a8a8a" stroke-width="1.4"/>
<line x1="996.20" y1="1058.00" x2="1000.40" y2="1058.00" stroke="#8a8a8a" stroke-width="1.3"/>
<text x="979.96" y="1061.90" font-size="10.80" font-weight="normal" font-style="normal" fill="#484848" textLength="13.81" lengthAdjust="spacingAndGlyphs" stroke="#484848" stroke-width="0.45">0.0</text>
<line x1="996.20" y1="1031.90" x2="1000.40" y2="1031.90" stroke="#8a8a8a" stroke-width="1.3"/>
<text x="980.09" y="1035.80" font-size="10.80" font-weight="normal" font-style="normal" fill="#484848" textLength="13.81" lengthAdjust="spacingAndGlyphs" stroke="#484848" stroke-width="0.45">0.2</text>
<line x1="996.20" y1="1005.80" x2="1000.40" y2="1005.80" stroke="#8a8a8a" stroke-width="1.3"/>
<text x="979.86" y="1009.70" font-size="10.80" font-weight="normal" font-style="normal" fill="#484848" textLength="13.81" lengthAdjust="spacingAndGlyphs" stroke="#484848" stroke-width="0.45">0.4</text>
<line x1="996.20" y1="979.70" x2="1000.40" y2="979.70" stroke="#8a8a8a" stroke-width="1.3"/>
<text x="980.01" y="983.60" font-size="10.80" font-weight="normal" font-style="normal" fill="#484848" textLength="13.81" lengthAdjust="spacingAndGlyphs" stroke="#484848" stroke-width="0.45">0.6</text>
<line x1="996.20" y1="953.60" x2="1000.40" y2="953.60" stroke="#8a8a8a" stroke-width="1.3"/>
<text x="980.01" y="957.50" font-size="10.80" font-weight="normal" font-style="normal" fill="#484848" textLength="13.81" lengthAdjust="spacingAndGlyphs" stroke="#484848" stroke-width="0.45">0.8</text>
<line x1="996.20" y1="927.50" x2="1000.40" y2="927.50" stroke="#8a8a8a" stroke-width="1.3"/>
<text x="979.96" y="931.40" font-size="10.80" font-weight="normal" font-style="normal" fill="#484848" textLength="13.81" lengthAdjust="spacingAndGlyphs" stroke="#484848" stroke-width="0.45">1.0</text>
<line x1="996.20" y1="901.40" x2="1000.40" y2="901.40" stroke="#8a8a8a" stroke-width="1.3"/>
<text x="980.09" y="905.30" font-size="10.80" font-weight="normal" font-style="normal" fill="#484848" textLength="13.81" lengthAdjust="spacingAndGlyphs" stroke="#484848" stroke-width="0.45">1.2</text>
<line x1="996.20" y1="875.30" x2="1000.40" y2="875.30" stroke="#8a8a8a" stroke-width="1.3"/>
<text x="979.86" y="879.20" font-size="10.80" font-weight="normal" font-style="normal" fill="#484848" textLength="13.81" lengthAdjust="spacingAndGlyphs" stroke="#484848" stroke-width="0.45">1.4</text>
<line x1="996.20" y1="849.20" x2="1000.40" y2="849.20" stroke="#8a8a8a" stroke-width="1.3"/>
<text x="980.01" y="853.10" font-size="10.80" font-weight="normal" font-style="normal" fill="#484848" textLength="13.81" lengthAdjust="spacingAndGlyphs" stroke="#484848" stroke-width="0.45">1.6</text>
<rect x="1016.80" y="927.10" width="48.20" height="130.90" fill="#7d7d80"/>
<rect x="1097.00" y="939.50" width="48.90" height="118.50" fill="#7d7d80"/>
<rect x="1178.30" y="872.20" width="48.20" height="185.80" fill="#7d7d80"/>
<line x1="1041.20" y1="919.20" x2="1041.20" y2="936.00" stroke="#4a4a4a" stroke-width="1.1"/>
<line x1="1039.40" y1="919.20" x2="1043.00" y2="919.20" stroke="#4a4a4a" stroke-width="1.2"/>
<line x1="1039.40" y1="936.00" x2="1043.00" y2="936.00" stroke="#4a4a4a" stroke-width="1.2"/>
<line x1="1121.70" y1="922.60" x2="1121.70" y2="955.60" stroke="#4a4a4a" stroke-width="1.1"/>
<line x1="1119.90" y1="922.60" x2="1123.50" y2="922.60" stroke="#4a4a4a" stroke-width="1.2"/>
<line x1="1119.90" y1="955.60" x2="1123.50" y2="955.60" stroke="#4a4a4a" stroke-width="1.2"/>
<line x1="1202.20" y1="858.80" x2="1202.20" y2="885.40" stroke="#4a4a4a" stroke-width="1.1"/>
<line x1="1200.40" y1="858.80" x2="1204.00" y2="858.80" stroke="#4a4a4a" stroke-width="1.2"/>
<line x1="1200.40" y1="885.40" x2="1204.00" y2="885.40" stroke="#4a4a4a" stroke-width="1.2"/>
<path d="M1041.00,842.30 L1041.00,834.20 L1202.20,834.20 L1202.20,844.10" fill="none" stroke="#8e8e8e" stroke-width="1.5"/>
<path d="M1041.00,857.00 L1041.00,847.80 L1115.70,847.80 L1115.70,857.00" fill="none" stroke="#8e8e8e" stroke-width="1.5"/>
<path d="M1124.10,857.00 L1124.10,847.80 L1202.20,847.80 L1202.20,857.00" fill="none" stroke="#8e8e8e" stroke-width="1.5"/>
<polygon points="1120.25,821.87 1121.37,824.13 1123.86,824.50 1122.06,826.26 1122.48,828.74 1120.25,827.57 1118.02,828.74 1118.44,826.26 1116.64,824.50 1119.13,824.13" fill="#2e2e2e"/>
<text x="1073.66" y="846.70" font-size="13.00" font-weight="normal" font-style="normal" fill="#444444" textLength="13.20" lengthAdjust="spacingAndGlyphs" stroke="#444444" stroke-width="0.2">ns</text>
<polygon points="1159.05,836.57 1160.17,838.83 1162.66,839.20 1160.86,840.96 1161.28,843.44 1159.05,842.27 1156.82,843.44 1157.24,840.96 1155.44,839.20 1157.93,838.83" fill="#2e2e2e"/>
<polygon points="1166.65,836.57 1167.77,838.83 1170.26,839.20 1168.46,840.96 1168.88,843.44 1166.65,842.27 1164.42,843.44 1164.84,840.96 1163.04,839.20 1165.53,838.83" fill="#2e2e2e"/>
<text x="1029.81" y="1074.60" font-size="16.30" font-weight="normal" font-style="normal" fill="#2c2c2c" textLength="21.98" lengthAdjust="spacingAndGlyphs" stroke="#2c2c2c" stroke-width="0.2">CK</text>
<text x="1114.66" y="1074.60" font-size="16.30" font-weight="normal" font-style="normal" fill="#2c2c2c" textLength="13.99" lengthAdjust="spacingAndGlyphs" stroke="#2c2c2c" stroke-width="0.2">Al</text>
<text x="1177.96" y="1074.60" font-size="16.30" font-weight="normal" font-style="normal" fill="#2c2c2c" textLength="46.59" lengthAdjust="spacingAndGlyphs" stroke="#2c2c2c" stroke-width="0.2">Al+NO</text>
<text x="93.43" y="1113.40" font-size="17.60" font-weight="normal" font-style="normal" fill="#3e3e3e" textLength="148.96" lengthAdjust="spacingAndGlyphs" stroke="#3e3e3e" stroke-width="0.3">Cla97C10G195850</text>
<text transform="translate(33.27,1342.19) rotate(-90)" x="0" y="0" font-size="15.55" fill="#383838" textLength="172.62" lengthAdjust="spacingAndGlyphs" stroke="#383838" stroke-width="0.2">Relative expression level</text>
<line x1="52.70" y1="1140.40" x2="52.70" y2="1363.30" stroke="#8a8a8a" stroke-width="1.4"/>
<line x1="52.00" y1="1362.60" x2="294.90" y2="1362.60" stroke="#8a8a8a" stroke-width="1.4"/>
<line x1="48.50" y1="1362.60" x2="52.70" y2="1362.60" stroke="#8a8a8a" stroke-width="1.3"/>
<text x="40.56" y="1366.50" font-size="10.80" font-weight="normal" font-style="normal" fill="#484848" textLength="5.53" lengthAdjust="spacingAndGlyphs" stroke="#484848" stroke-width="0.45">0</text>
<line x1="48.50" y1="1336.47" x2="52.70" y2="1336.47" stroke="#8a8a8a" stroke-width="1.3"/>
<text x="40.66" y="1340.38" font-size="10.80" font-weight="normal" font-style="normal" fill="#484848" textLength="5.53" lengthAdjust="spacingAndGlyphs" stroke="#484848" stroke-width="0.45">1</text>
<line x1="48.50" y1="1310.35" x2="52.70" y2="1310.35" stroke="#8a8a8a" stroke-width="1.3"/>
<text x="40.68" y="1314.25" font-size="10.80" font-weight="normal" font-style="normal" fill="#484848" textLength="5.53" lengthAdjust="spacingAndGlyphs" stroke="#484848" stroke-width="0.45">2</text>
<line x1="48.50" y1="1284.22" x2="52.70" y2="1284.22" stroke="#8a8a8a" stroke-width="1.3"/>
<text x="40.61" y="1288.12" font-size="10.80" font-weight="normal" font-style="normal" fill="#484848" textLength="5.53" lengthAdjust="spacingAndGlyphs" stroke="#484848" stroke-width="0.45">3</text>
<line x1="48.50" y1="1258.10" x2="52.70" y2="1258.10" stroke="#8a8a8a" stroke-width="1.3"/>
<text x="40.46" y="1262.00" font-size="10.80" font-weight="normal" font-style="normal" fill="#484848" textLength="5.53" lengthAdjust="spacingAndGlyphs" stroke="#484848" stroke-width="0.45">4</text>
<line x1="48.50" y1="1231.97" x2="52.70" y2="1231.97" stroke="#8a8a8a" stroke-width="1.3"/>
<text x="40.58" y="1235.88" font-size="10.80" font-weight="normal" font-style="normal" fill="#484848" textLength="5.53" lengthAdjust="spacingAndGlyphs" stroke="#484848" stroke-width="0.45">5</text>
<line x1="48.50" y1="1205.85" x2="52.70" y2="1205.85" stroke="#8a8a8a" stroke-width="1.3"/>
<text x="40.61" y="1209.75" font-size="10.80" font-weight="normal" font-style="normal" fill="#484848" textLength="5.53" lengthAdjust="spacingAndGlyphs" stroke="#484848" stroke-width="0.45">6</text>
<line x1="48.50" y1="1179.72" x2="52.70" y2="1179.72" stroke="#8a8a8a" stroke-width="1.3"/>
<text x="40.68" y="1183.62" font-size="10.80" font-weight="normal" font-style="normal" fill="#484848" textLength="5.53" lengthAdjust="spacingAndGlyphs" stroke="#484848" stroke-width="0.45">7</text>
<line x1="48.50" y1="1153.60" x2="52.70" y2="1153.60" stroke="#8a8a8a" stroke-width="1.3"/>
<text x="40.61" y="1157.50" font-size="10.80" font-weight="normal" font-style="normal" fill="#484848" textLength="5.53" lengthAdjust="spacingAndGlyphs" stroke="#484848" stroke-width="0.45">8</text>
<rect x="68.70" y="1336.50" width="48.50" height="26.10" fill="#7d7d80"/>
<rect x="149.20" y="1294.40" width="48.50" height="68.20" fill="#7d7d80"/>
<rect x="229.80" y="1189.30" width="48.00" height="173.30" fill="#7d7d80"/>
<line x1="93.40" y1="1333.20" x2="93.40" y2="1339.50" stroke="#4a4a4a" stroke-width="1.1"/>
<line x1="91.60" y1="1333.20" x2="95.20" y2="1333.20" stroke="#4a4a4a" stroke-width="1.2"/>
<line x1="91.60" y1="1339.50" x2="95.20" y2="1339.50" stroke="#4a4a4a" stroke-width="1.2"/>
<line x1="173.00" y1="1291.20" x2="173.00" y2="1298.00" stroke="#4a4a4a" stroke-width="1.1"/>
<line x1="171.20" y1="1291.20" x2="174.80" y2="1291.20" stroke="#4a4a4a" stroke-width="1.2"/>
<line x1="171.20" y1="1298.00" x2="174.80" y2="1298.00" stroke="#4a4a4a" stroke-width="1.2"/>
<line x1="254.00" y1="1167.90" x2="254.00" y2="1210.60" stroke="#4a4a4a" stroke-width="1.1"/>
<line x1="252.20" y1="1167.90" x2="255.80" y2="1167.90" stroke="#4a4a4a" stroke-width="1.2"/>
<line x1="252.20" y1="1210.60" x2="255.80" y2="1210.60" stroke="#4a4a4a" stroke-width="1.2"/>
<path d="M94.30,1152.30 L94.30,1144.50 L254.60,1144.50 L254.60,1154.10" fill="none" stroke="#8e8e8e" stroke-width="1.5"/>
<path d="M94.30,1167.00 L94.30,1157.40 L168.80,1157.40 L168.80,1167.00" fill="none" stroke="#8e8e8e" stroke-width="1.5"/>
<path d="M177.20,1167.00 L177.20,1157.40 L254.60,1157.40 L254.60,1167.00" fill="none" stroke="#8e8e8e" stroke-width="1.5"/>
<polygon points="171.05,1131.87 172.17,1134.13 174.66,1134.50 172.86,1136.26 173.28,1138.74 171.05,1137.57 168.82,1138.74 169.24,1136.26 167.44,1134.50 169.93,1134.13" fill="#2e2e2e"/>
<polygon points="178.65,1131.87 179.77,1134.13 182.26,1134.50 180.46,1136.26 180.88,1138.74 178.65,1137.57 176.42,1138.74 176.84,1136.26 175.04,1134.50 177.53,1134.13" fill="#2e2e2e"/>
<polygon points="131.40,1147.57 132.52,1149.83 135.01,1150.20 133.21,1151.96 133.63,1154.44 131.40,1153.27 129.17,1154.44 129.59,1151.96 127.79,1150.20 130.28,1149.83" fill="#2e2e2e"/>
<polygon points="212.55,1147.82 213.67,1150.08 216.16,1150.45 214.36,1152.21 214.78,1154.69 212.55,1153.52 210.32,1154.69 210.74,1152.21 208.94,1150.45 211.43,1150.08" fill="#2e2e2e"/>
<polygon points="220.15,1147.82 221.27,1150.08 223.76,1150.45 221.96,1152.21 222.38,1154.69 220.15,1153.52 217.92,1154.69 218.34,1152.21 216.54,1150.45 219.03,1150.08" fill="#2e2e2e"/>
<text x="81.19" y="1379.10" font-size="16.30" font-weight="normal" font-style="normal" fill="#2c2c2c" textLength="22.50" lengthAdjust="spacingAndGlyphs" stroke="#2c2c2c" stroke-width="0.2">CK</text>
<text x="166.56" y="1379.10" font-size="16.30" font-weight="normal" font-style="normal" fill="#2c2c2c" textLength="13.34" lengthAdjust="spacingAndGlyphs" stroke="#2c2c2c" stroke-width="0.2">Al</text>
<text x="229.76" y="1379.10" font-size="16.30" font-weight="normal" font-style="normal" fill="#2c2c2c" textLength="46.59" lengthAdjust="spacingAndGlyphs" stroke="#2c2c2c" stroke-width="0.2">Al+NO</text>
<text x="400.62" y="1112.00" font-size="17.60" font-weight="normal" font-style="normal" fill="#3e3e3e" textLength="148.95" lengthAdjust="spacingAndGlyphs" stroke="#3e3e3e" stroke-width="0.3">Cla97C11G214530</text>
<text transform="translate(340.71,1344.98) rotate(-90)" x="0" y="0" font-size="15.87" fill="#383838" textLength="171.81" lengthAdjust="spacingAndGlyphs" stroke="#383838" stroke-width="0.2">Relative expression level</text>
<line x1="368.50" y1="1140.40" x2="368.50" y2="1363.70" stroke="#8a8a8a" stroke-width="1.4"/>
<line x1="367.80" y1="1363.00" x2="610.30" y2="1363.00" stroke="#8a8a8a" stroke-width="1.4"/>
<line x1="364.30" y1="1363.00" x2="368.50" y2="1363.00" stroke="#8a8a8a" stroke-width="1.3"/>
<text x="348.06" y="1366.90" font-size="10.80" font-weight="normal" font-style="normal" fill="#484848" textLength="13.81" lengthAdjust="spacingAndGlyphs" stroke="#484848" stroke-width="0.45">0.0</text>
<line x1="364.30" y1="1338.32" x2="368.50" y2="1338.32" stroke="#8a8a8a" stroke-width="1.3"/>
<text x="348.09" y="1342.22" font-size="10.80" font-weight="normal" font-style="normal" fill="#484848" textLength="13.81" lengthAdjust="spacingAndGlyphs" stroke="#484848" stroke-width="0.45">0.5</text>
<line x1="364.30" y1="1313.64" x2="368.50" y2="1313.64" stroke="#8a8a8a" stroke-width="1.3"/>
<text x="348.06" y="1317.54" font-size="10.80" font-weight="normal" font-style="normal" fill="#484848" textLength="13.81" lengthAdjust="spacingAndGlyphs" stroke="#484848" stroke-width="0.45">1.0</text>
<line x1="364.30" y1="1288.97" x2="368.50" y2="1288.97" stroke="#8a8a8a" stroke-width="1.3"/>
<text x="348.09" y="1292.87" font-size="10.80" font-weight="normal" font-style="normal" fill="#484848" textLength="13.81" lengthAdjust="spacingAndGlyphs" stroke="#484848" stroke-width="0.45">1.5</text>
<line x1="364.30" y1="1264.29" x2="368.50" y2="1264.29" stroke="#8a8a8a" stroke-width="1.3"/>
<text x="348.06" y="1268.19" font-size="10.80" font-weight="normal" font-style="normal" fill="#484848" textLength="13.81" lengthAdjust="spacingAndGlyphs" stroke="#484848" stroke-width="0.45">2.0</text>
<line x1="364.30" y1="1239.61" x2="368.50" y2="1239.61" stroke="#8a8a8a" stroke-width="1.3"/>
<text x="348.09" y="1243.51" font-size="10.80" font-weight="normal" font-style="normal" fill="#484848" textLength="13.81" lengthAdjust="spacingAndGlyphs" stroke="#484848" stroke-width="0.45">2.5</text>
<line x1="364.30" y1="1214.93" x2="368.50" y2="1214.93" stroke="#8a8a8a" stroke-width="1.3"/>
<text x="348.06" y="1218.83" font-size="10.80" font-weight="normal" font-style="normal" fill="#484848" textLength="13.81" lengthAdjust="spacingAndGlyphs" stroke="#484848" stroke-width="0.45">3.0</text>
<line x1="364.30" y1="1190.26" x2="368.50" y2="1190.26" stroke="#8a8a8a" stroke-width="1.3"/>
<text x="348.09" y="1194.16" font-size="10.80" font-weight="normal" font-style="normal" fill="#484848" textLength="13.81" lengthAdjust="spacingAndGlyphs" stroke="#484848" stroke-width="0.45">3.5</text>
<line x1="364.30" y1="1165.58" x2="368.50" y2="1165.58" stroke="#8a8a8a" stroke-width="1.3"/>
<text x="348.06" y="1169.48" font-size="10.80" font-weight="normal" font-style="normal" fill="#484848" textLength="13.81" lengthAdjust="spacingAndGlyphs" stroke="#484848" stroke-width="0.45">4.0</text>
<line x1="364.30" y1="1140.90" x2="368.50" y2="1140.90" stroke="#8a8a8a" stroke-width="1.3"/>
<text x="348.09" y="1144.80" font-size="10.80" font-weight="normal" font-style="normal" fill="#484848" textLength="13.81" lengthAdjust="spacingAndGlyphs" stroke="#484848" stroke-width="0.45">4.5</text>
<rect x="384.50" y="1312.20" width="48.10" height="50.80" fill="#7d7d80"/>
<rect x="465.10" y="1316.00" width="48.40" height="47.00" fill="#7d7d80"/>
<rect x="545.80" y="1181.10" width="48.00" height="181.90" fill="#7d7d80"/>
<line x1="409.20" y1="1299.20" x2="409.20" y2="1325.30" stroke="#4a4a4a" stroke-width="1.1"/>
<line x1="407.40" y1="1299.20" x2="411.00" y2="1299.20" stroke="#4a4a4a" stroke-width="1.2"/>
<line x1="407.40" y1="1325.30" x2="411.00" y2="1325.30" stroke="#4a4a4a" stroke-width="1.2"/>
<line x1="489.00" y1="1306.30" x2="489.00" y2="1326.80" stroke="#4a4a4a" stroke-width="1.1"/>
<line x1="487.20" y1="1306.30" x2="490.80" y2="1306.30" stroke="#4a4a4a" stroke-width="1.2"/>
<line x1="487.20" y1="1326.80" x2="490.80" y2="1326.80" stroke="#4a4a4a" stroke-width="1.2"/>
<line x1="569.60" y1="1162.80" x2="569.60" y2="1199.40" stroke="#4a4a4a" stroke-width="1.1"/>
<line x1="567.80" y1="1162.80" x2="571.40" y2="1162.80" stroke="#4a4a4a" stroke-width="1.2"/>
<line x1="567.80" y1="1199.40" x2="571.40" y2="1199.40" stroke="#4a4a4a" stroke-width="1.2"/>
<path d="M409.20,1141.60 L409.20,1133.50 L570.00,1133.50 L570.00,1143.20" fill="none" stroke="#8e8e8e" stroke-width="1.5"/>
<path d="M409.20,1156.00 L409.20,1146.80 L483.80,1146.80 L483.80,1156.00" fill="none" stroke="#8e8e8e" stroke-width="1.5"/>
<path d="M492.40,1156.00 L492.40,1146.80 L569.60,1146.80 L569.60,1156.00" fill="none" stroke="#8e8e8e" stroke-width="1.5"/>
<polygon points="484.35,1123.37 485.47,1125.63 487.96,1126.00 486.16,1127.76 486.58,1130.24 484.35,1129.07 482.12,1130.24 482.54,1127.76 480.74,1126.00 483.23,1125.63" fill="#2e2e2e"/>
<polygon points="491.95,1123.37 493.07,1125.63 495.56,1126.00 493.76,1127.76 494.18,1130.24 491.95,1129.07 489.72,1130.24 490.14,1127.76 488.34,1126.00 490.83,1125.63" fill="#2e2e2e"/>
<text x="444.69" y="1145.00" font-size="13.00" font-weight="normal" font-style="normal" fill="#444444" textLength="12.75" lengthAdjust="spacingAndGlyphs" stroke="#444444" stroke-width="0.2">ns</text>
<polygon points="529.50,1137.42 530.62,1139.68 533.11,1140.05 531.31,1141.81 531.73,1144.29 529.50,1143.12 527.27,1144.29 527.69,1141.81 525.89,1140.05 528.38,1139.68" fill="#2e2e2e"/>
<polygon points="537.10,1137.42 538.22,1139.68 540.71,1140.05 538.91,1141.81 539.33,1144.29 537.10,1143.12 534.87,1144.29 535.29,1141.81 533.49,1140.05 535.98,1139.68" fill="#2e2e2e"/>
<text x="397.59" y="1379.50" font-size="16.30" font-weight="normal" font-style="normal" fill="#2c2c2c" textLength="22.39" lengthAdjust="spacingAndGlyphs" stroke="#2c2c2c" stroke-width="0.2">CK</text>
<text x="481.96" y="1379.50" font-size="16.30" font-weight="normal" font-style="normal" fill="#2c2c2c" textLength="13.88" lengthAdjust="spacingAndGlyphs" stroke="#2c2c2c" stroke-width="0.2">Al</text>
<text x="725.33" y="1112.00" font-size="17.60" font-weight="normal" font-style="normal" fill="#3e3e3e" textLength="148.96" lengthAdjust="spacingAndGlyphs" stroke="#3e3e3e" stroke-width="0.3">Cla97C10G203590</text>
<text transform="translate(655.07,1342.19) rotate(-90)" x="0" y="0" font-size="15.55" fill="#383838" textLength="172.62" lengthAdjust="spacingAndGlyphs" stroke="#383838" stroke-width="0.2">Relative expression level</text>
<line x1="683.00" y1="1139.80" x2="683.00" y2="1363.30" stroke="#8a8a8a" stroke-width="1.4"/>
<line x1="682.30" y1="1362.60" x2="924.90" y2="1362.60" stroke="#8a8a8a" stroke-width="1.4"/>
<line x1="678.80" y1="1362.60" x2="683.00" y2="1362.60" stroke="#8a8a8a" stroke-width="1.3"/>
<text x="662.56" y="1366.50" font-size="10.80" font-weight="normal" font-style="normal" fill="#484848" textLength="13.81" lengthAdjust="spacingAndGlyphs" stroke="#484848" stroke-width="0.45">0.0</text>
<line x1="678.80" y1="1325.47" x2="683.00" y2="1325.47" stroke="#8a8a8a" stroke-width="1.3"/>
<text x="662.69" y="1329.37" font-size="10.80" font-weight="normal" font-style="normal" fill="#484848" textLength="13.81" lengthAdjust="spacingAndGlyphs" stroke="#484848" stroke-width="0.45">0.2</text>
<line x1="678.80" y1="1288.33" x2="683.00" y2="1288.33" stroke="#8a8a8a" stroke-width="1.3"/>
<text x="662.46" y="1292.23" font-size="10.80" font-weight="normal" font-style="normal" fill="#484848" textLength="13.81" lengthAdjust="spacingAndGlyphs" stroke="#484848" stroke-width="0.45">0.4</text>
<line x1="678.80" y1="1251.20" x2="683.00" y2="1251.20" stroke="#8a8a8a" stroke-width="1.3"/>
<text x="662.61" y="1255.10" font-size="10.80" font-weight="normal" font-style="normal" fill="#484848" textLength="13.81" lengthAdjust="spacingAndGlyphs" stroke="#484848" stroke-width="0.45">0.6</text>
<line x1="678.80" y1="1214.07" x2="683.00" y2="1214.07" stroke="#8a8a8a" stroke-width="1.3"/>
<text x="662.61" y="1217.97" font-size="10.80" font-weight="normal" font-style="normal" fill="#484848" textLength="13.81" lengthAdjust="spacingAndGlyphs" stroke="#484848" stroke-width="0.45">0.8</text>
<line x1="678.80" y1="1176.93" x2="683.00" y2="1176.93" stroke="#8a8a8a" stroke-width="1.3"/>
<text x="662.56" y="1180.83" font-size="10.80" font-weight="normal" font-style="normal" fill="#484848" textLength="13.81" lengthAdjust="spacingAndGlyphs" stroke="#484848" stroke-width="0.45">1.0</text>
<line x1="678.80" y1="1139.80" x2="683.00" y2="1139.80" stroke="#8a8a8a" stroke-width="1.3"/>
<text x="662.69" y="1143.70" font-size="10.80" font-weight="normal" font-style="normal" fill="#484848" textLength="13.81" lengthAdjust="spacingAndGlyphs" stroke="#484848" stroke-width="0.45">1.2</text>
<rect x="698.70" y="1177.50" width="48.60" height="185.10" fill="#7d7d80"/>
<rect x="779.60" y="1310.90" width="48.90" height="51.70" fill="#7d7d80"/>
<rect x="860.20" y="1250.40" width="48.60" height="112.20" fill="#7d7d80"/>
<line x1="723.60" y1="1170.20" x2="723.60" y2="1184.30" stroke="#4a4a4a" stroke-width="1.1"/>
<line x1="721.80" y1="1170.20" x2="725.40" y2="1170.20" stroke="#4a4a4a" stroke-width="1.2"/>
<line x1="721.80" y1="1184.30" x2="725.40" y2="1184.30" stroke="#4a4a4a" stroke-width="1.2"/>
<line x1="804.00" y1="1307.20" x2="804.00" y2="1315.10" stroke="#4a4a4a" stroke-width="1.1"/>
<line x1="802.20" y1="1307.20" x2="805.80" y2="1307.20" stroke="#4a4a4a" stroke-width="1.2"/>
<line x1="802.20" y1="1315.10" x2="805.80" y2="1315.10" stroke="#4a4a4a" stroke-width="1.2"/>
<line x1="884.40" y1="1229.30" x2="884.40" y2="1270.50" stroke="#4a4a4a" stroke-width="1.1"/>
<line x1="882.60" y1="1229.30" x2="886.20" y2="1229.30" stroke="#4a4a4a" stroke-width="1.2"/>
<line x1="882.60" y1="1270.50" x2="886.20" y2="1270.50" stroke="#4a4a4a" stroke-width="1.2"/>
<path d="M723.30,1148.60 L723.30,1140.70 L884.60,1140.70 L884.60,1150.50" fill="none" stroke="#8e8e8e" stroke-width="1.5"/>
<path d="M723.30,1163.30 L723.30,1153.50 L797.90,1153.50 L797.90,1163.30" fill="none" stroke="#8e8e8e" stroke-width="1.5"/>
<path d="M806.50,1163.30 L806.50,1153.50 L884.40,1153.50 L884.40,1163.30" fill="none" stroke="#8e8e8e" stroke-width="1.5"/>
<polygon points="798.55,1128.72 799.67,1130.98 802.16,1131.35 800.36,1133.11 800.78,1135.59 798.55,1134.42 796.32,1135.59 796.74,1133.11 794.94,1131.35 797.43,1130.98" fill="#2e2e2e"/>
<polygon points="806.15,1128.72 807.27,1130.98 809.76,1131.35 807.96,1133.11 808.38,1135.59 806.15,1134.42 803.92,1135.59 804.34,1133.11 802.54,1131.35 805.03,1130.98" fill="#2e2e2e"/>
<polygon points="761.05,1144.72 762.17,1146.98 764.66,1147.35 762.86,1149.11 763.28,1151.59 761.05,1150.42 758.82,1151.59 759.24,1149.11 757.44,1147.35 759.93,1146.98" fill="#2e2e2e"/>
<polygon points="768.65,1144.72 769.77,1146.98 772.26,1147.35 770.46,1149.11 770.88,1151.59 768.65,1150.42 766.42,1151.59 766.84,1149.11 765.04,1147.35 767.53,1146.98" fill="#2e2e2e"/>
<polygon points="843.55,1144.77 844.67,1147.03 847.16,1147.40 845.36,1149.16 845.78,1151.64 843.55,1150.47 841.32,1151.64 841.74,1149.16 839.94,1147.40 842.43,1147.03" fill="#2e2e2e"/>
<polygon points="851.15,1144.77 852.27,1147.03 854.76,1147.40 852.96,1149.16 853.38,1151.64 851.15,1150.47 848.92,1151.64 849.34,1149.16 847.54,1147.40 850.03,1147.03" fill="#2e2e2e"/>
<text x="712.01" y="1379.10" font-size="16.30" font-weight="normal" font-style="normal" fill="#2c2c2c" textLength="22.08" lengthAdjust="spacingAndGlyphs" stroke="#2c2c2c" stroke-width="0.2">CK</text>
<text x="796.96" y="1379.10" font-size="16.30" font-weight="normal" font-style="normal" fill="#2c2c2c" textLength="13.88" lengthAdjust="spacingAndGlyphs" stroke="#2c2c2c" stroke-width="0.2">Al</text>
<text x="860.16" y="1379.10" font-size="16.30" font-weight="normal" font-style="normal" fill="#2c2c2c" textLength="47.21" lengthAdjust="spacingAndGlyphs" stroke="#2c2c2c" stroke-width="0.2">Al+NO</text>
<text x="1051.73" y="1112.00" font-size="17.60" font-weight="normal" font-style="normal" fill="#3e3e3e" textLength="148.96" lengthAdjust="spacingAndGlyphs" stroke="#3e3e3e" stroke-width="0.3">Cla97C01G016570</text>
<text transform="translate(985.97,1342.19) rotate(-90)" x="0" y="0" font-size="15.55" fill="#383838" textLength="172.62" lengthAdjust="spacingAndGlyphs" stroke="#383838" stroke-width="0.2">Relative expression level</text>
<line x1="1014.10" y1="1139.80" x2="1014.10" y2="1362.90" stroke="#8a8a8a" stroke-width="1.4"/>
<line x1="1013.40" y1="1362.20" x2="1256.00" y2="1362.20" stroke="#8a8a8a" stroke-width="1.4"/>
<line x1="1009.90" y1="1362.20" x2="1014.10" y2="1362.20" stroke="#8a8a8a" stroke-width="1.3"/>
<text x="993.66" y="1366.10" font-size="10.80" font-weight="normal" font-style="normal" fill="#484848" textLength="13.81" lengthAdjust="spacingAndGlyphs" stroke="#484848" stroke-width="0.45">0.0</text>
<line x1="1009.90" y1="1334.40" x2="1014.10" y2="1334.40" stroke="#8a8a8a" stroke-width="1.3"/>
<text x="993.79" y="1338.30" font-size="10.80" font-weight="normal" font-style="normal" fill="#484848" textLength="13.81" lengthAdjust="spacingAndGlyphs" stroke="#484848" stroke-width="0.45">0.2</text>
<line x1="1009.90" y1="1306.60" x2="1014.10" y2="1306.60" stroke="#8a8a8a" stroke-width="1.3"/>
<text x="993.56" y="1310.50" font-size="10.80" font-weight="normal" font-style="normal" fill="#484848" textLength="13.81" lengthAdjust="spacingAndGlyphs" stroke="#484848" stroke-width="0.45">0.4</text>
<line x1="1009.90" y1="1278.80" x2="1014.10" y2="1278.80" stroke="#8a8a8a" stroke-width="1.3"/>
<text x="993.71" y="1282.70" font-size="10.80" font-weight="normal" font-style="normal" fill="#484848" textLength="13.81" lengthAdjust="spacingAndGlyphs" stroke="#484848" stroke-width="0.45">0.6</text>
<line x1="1009.90" y1="1251.00" x2="1014.10" y2="1251.00" stroke="#8a8a8a" stroke-width="1.3"/>
<text x="993.71" y="1254.90" font-size="10.80" font-weight="normal" font-style="normal" fill="#484848" textLength="13.81" lengthAdjust="spacingAndGlyphs" stroke="#484848" stroke-width="0.45">0.8</text>
<line x1="1009.90" y1="1223.20" x2="1014.10" y2="1223.20" stroke="#8a8a8a" stroke-width="1.3"/>
<text x="993.66" y="1227.10" font-size="10.80" font-weight="normal" font-style="normal" fill="#484848" textLength="13.81" lengthAdjust="spacingAndGlyphs" stroke="#484848" stroke-width="0.45">1.0</text>
<line x1="1009.90" y1="1195.40" x2="1014.10" y2="1195.40" stroke="#8a8a8a" stroke-width="1.3"/>
<text x="993.79" y="1199.30" font-size="10.80" font-weight="normal" font-style="normal" fill="#484848" textLength="13.81" lengthAdjust="spacingAndGlyphs" stroke="#484848" stroke-width="0.45">1.2</text>
<line x1="1009.90" y1="1167.60" x2="1014.10" y2="1167.60" stroke="#8a8a8a" stroke-width="1.3"/>
<text x="993.56" y="1171.50" font-size="10.80" font-weight="normal" font-style="normal" fill="#484848" textLength="13.81" lengthAdjust="spacingAndGlyphs" stroke="#484848" stroke-width="0.45">1.4</text>
<line x1="1009.90" y1="1139.80" x2="1014.10" y2="1139.80" stroke="#8a8a8a" stroke-width="1.3"/>
<text x="993.71" y="1143.70" font-size="10.80" font-weight="normal" font-style="normal" fill="#484848" textLength="13.81" lengthAdjust="spacingAndGlyphs" stroke="#484848" stroke-width="0.45">1.6</text>
<rect x="1030.20" y="1219.10" width="48.00" height="143.10" fill="#7d7d80"/>
<rect x="1110.70" y="1302.20" width="48.60" height="60.00" fill="#7d7d80"/>
<rect x="1191.40" y="1184.40" width="48.30" height="177.80" fill="#7d7d80"/>
<line x1="1054.80" y1="1189.30" x2="1054.80" y2="1249.00" stroke="#4a4a4a" stroke-width="1.1"/>
<line x1="1053.00" y1="1189.30" x2="1056.60" y2="1189.30" stroke="#4a4a4a" stroke-width="1.2"/>
<line x1="1053.00" y1="1249.00" x2="1056.60" y2="1249.00" stroke="#4a4a4a" stroke-width="1.2"/>
<line x1="1134.90" y1="1294.90" x2="1134.90" y2="1310.00" stroke="#4a4a4a" stroke-width="1.1"/>
<line x1="1133.10" y1="1294.90" x2="1136.70" y2="1294.90" stroke="#4a4a4a" stroke-width="1.2"/>
<line x1="1133.10" y1="1310.00" x2="1136.70" y2="1310.00" stroke="#4a4a4a" stroke-width="1.2"/>
<line x1="1215.40" y1="1168.80" x2="1215.40" y2="1199.10" stroke="#4a4a4a" stroke-width="1.1"/>
<line x1="1213.60" y1="1168.80" x2="1217.20" y2="1168.80" stroke="#4a4a4a" stroke-width="1.2"/>
<line x1="1213.60" y1="1199.10" x2="1217.20" y2="1199.10" stroke="#4a4a4a" stroke-width="1.2"/>
<path d="M1055.00,1151.40 L1055.00,1143.20 L1216.50,1143.20 L1216.50,1152.30" fill="none" stroke="#8e8e8e" stroke-width="1.5"/>
<path d="M1055.00,1165.30 L1055.00,1155.90 L1129.40,1155.90 L1129.40,1165.30" fill="none" stroke="#8e8e8e" stroke-width="1.5"/>
<path d="M1138.20,1165.30 L1138.20,1155.90 L1216.10,1155.90 L1216.10,1165.30" fill="none" stroke="#8e8e8e" stroke-width="1.5"/>
<text x="1127.08" y="1139.50" font-size="13.00" font-weight="normal" font-style="normal" fill="#444444" textLength="12.86" lengthAdjust="spacingAndGlyphs" stroke="#444444" stroke-width="0.2">ns</text>
<polygon points="1093.35,1146.27 1094.47,1148.53 1096.96,1148.90 1095.16,1150.66 1095.58,1153.14 1093.35,1151.97 1091.12,1153.14 1091.54,1150.66 1089.74,1148.90 1092.23,1148.53" fill="#2e2e2e"/>
<polygon points="1100.95,1146.27 1102.07,1148.53 1104.56,1148.90 1102.76,1150.66 1103.18,1153.14 1100.95,1151.97 1098.72,1153.14 1099.14,1150.66 1097.34,1148.90 1099.83,1148.53" fill="#2e2e2e"/>
<polygon points="1175.35,1145.07 1176.47,1147.33 1178.96,1147.70 1177.16,1149.46 1177.58,1151.94 1175.35,1150.77 1173.12,1151.94 1173.54,1149.46 1171.74,1147.70 1174.23,1147.33" fill="#2e2e2e"/>
<polygon points="1182.95,1145.07 1184.07,1147.33 1186.56,1147.70 1184.76,1149.46 1185.18,1151.94 1182.95,1150.77 1180.72,1151.94 1181.14,1149.46 1179.34,1147.70 1181.83,1147.33" fill="#2e2e2e"/>
<text x="1042.99" y="1378.90" font-size="16.30" font-weight="normal" font-style="normal" fill="#2c2c2c" textLength="22.60" lengthAdjust="spacingAndGlyphs" stroke="#2c2c2c" stroke-width="0.2">CK</text>
<text x="1127.86" y="1378.90" font-size="16.30" font-weight="normal" font-style="normal" fill="#2c2c2c" textLength="13.55" lengthAdjust="spacingAndGlyphs" stroke="#2c2c2c" stroke-width="0.2">Al</text>
<text x="1191.36" y="1378.90" font-size="16.30" font-weight="normal" font-style="normal" fill="#2c2c2c" textLength="46.59" lengthAdjust="spacingAndGlyphs" stroke="#2c2c2c" stroke-width="0.2">Al+NO</text>
<text x="91.63" y="1414.40" font-size="17.60" font-weight="normal" font-style="normal" fill="#3e3e3e" textLength="148.66" lengthAdjust="spacingAndGlyphs" stroke="#3e3e3e" stroke-width="0.3">Cla97C09G177290</text>
<text transform="translate(20.17,1647.58) rotate(-90)" x="0" y="0" font-size="15.55" fill="#383838" textLength="172.02" lengthAdjust="spacingAndGlyphs" stroke="#383838" stroke-width="0.2">Relative expression level</text>
<line x1="48.20" y1="1445.70" x2="48.20" y2="1668.40" stroke="#8a8a8a" stroke-width="1.4"/>
<line x1="47.50" y1="1667.70" x2="290.00" y2="1667.70" stroke="#8a8a8a" stroke-width="1.4"/>
<line x1="44.00" y1="1667.70" x2="48.20" y2="1667.70" stroke="#8a8a8a" stroke-width="1.3"/>
<text x="27.76" y="1671.60" font-size="10.80" font-weight="normal" font-style="normal" fill="#484848" textLength="13.81" lengthAdjust="spacingAndGlyphs" stroke="#484848" stroke-width="0.45">0.0</text>
<line x1="44.00" y1="1618.28" x2="48.20" y2="1618.28" stroke="#8a8a8a" stroke-width="1.3"/>
<text x="27.79" y="1622.18" font-size="10.80" font-weight="normal" font-style="normal" fill="#484848" textLength="13.81" lengthAdjust="spacingAndGlyphs" stroke="#484848" stroke-width="0.45">0.5</text>
<line x1="44.00" y1="1568.85" x2="48.20" y2="1568.85" stroke="#8a8a8a" stroke-width="1.3"/>
<text x="27.76" y="1572.75" font-size="10.80" font-weight="normal" font-style="normal" fill="#484848" textLength="13.81" lengthAdjust="spacingAndGlyphs" stroke="#484848" stroke-width="0.45">1.0</text>
<line x1="44.00" y1="1519.42" x2="48.20" y2="1519.42" stroke="#8a8a8a" stroke-width="1.3"/>
<text x="27.79" y="1523.33" font-size="10.80" font-weight="normal" font-style="normal" fill="#484848" textLength="13.81" lengthAdjust="spacingAndGlyphs" stroke="#484848" stroke-width="0.45">1.5</text>
<line x1="44.00" y1="1470.00" x2="48.20" y2="1470.00" stroke="#8a8a8a" stroke-width="1.3"/>
<text x="27.76" y="1473.90" font-size="10.80" font-weight="normal" font-style="normal" fill="#484848" textLength="13.81" lengthAdjust="spacingAndGlyphs" stroke="#484848" stroke-width="0.45">2.0</text>
<rect x="64.60" y="1568.90" width="48.30" height="98.80" fill="#7d7d80"/>
<rect x="145.00" y="1652.00" width="48.90" height="15.70" fill="#7d7d80"/>
<rect x="226.30" y="1520.40" width="48.00" height="147.30" fill="#7d7d80"/>
<line x1="89.30" y1="1564.60" x2="89.30" y2="1573.60" stroke="#4a4a4a" stroke-width="1.1"/>
<line x1="87.50" y1="1564.60" x2="91.10" y2="1564.60" stroke="#4a4a4a" stroke-width="1.2"/>
<line x1="87.50" y1="1573.60" x2="91.10" y2="1573.60" stroke="#4a4a4a" stroke-width="1.2"/>
<line x1="170.00" y1="1650.70" x2="170.00" y2="1653.90" stroke="#4a4a4a" stroke-width="1.1"/>
<line x1="168.20" y1="1650.70" x2="171.80" y2="1650.70" stroke="#4a4a4a" stroke-width="1.2"/>
<line x1="168.20" y1="1653.90" x2="171.80" y2="1653.90" stroke="#4a4a4a" stroke-width="1.2"/>
<line x1="249.80" y1="1470.00" x2="249.80" y2="1570.40" stroke="#4a4a4a" stroke-width="1.1"/>
<line x1="248.00" y1="1470.00" x2="251.60" y2="1470.00" stroke="#4a4a4a" stroke-width="1.2"/>
<line x1="248.00" y1="1570.40" x2="251.60" y2="1570.40" stroke="#4a4a4a" stroke-width="1.2"/>
<path d="M89.30,1449.80 L89.30,1441.80 L250.40,1441.80 L250.40,1451.60" fill="none" stroke="#8e8e8e" stroke-width="1.5"/>
<path d="M89.30,1464.10 L89.30,1454.60 L163.60,1454.60 L163.60,1464.10" fill="none" stroke="#8e8e8e" stroke-width="1.5"/>
<path d="M172.10,1464.10 L172.10,1454.60 L249.80,1454.60 L249.80,1464.10" fill="none" stroke="#8e8e8e" stroke-width="1.5"/>
<text x="160.96" y="1438.30" font-size="13.00" font-weight="normal" font-style="normal" fill="#444444" textLength="13.08" lengthAdjust="spacingAndGlyphs" stroke="#444444" stroke-width="0.2">ns</text>
<polygon points="127.85,1447.42 128.97,1449.68 131.46,1450.05 129.66,1451.81 130.08,1454.29 127.85,1453.12 125.62,1454.29 126.04,1451.81 124.24,1450.05 126.73,1449.68" fill="#2e2e2e"/>
<polygon points="209.75,1447.42 210.87,1449.68 213.36,1450.05 211.56,1451.81 211.98,1454.29 209.75,1453.12 207.52,1454.29 207.94,1451.81 206.14,1450.05 208.63,1449.68" fill="#2e2e2e"/>
<polygon points="217.35,1447.42 218.47,1449.68 220.96,1450.05 219.16,1451.81 219.58,1454.29 217.35,1453.12 215.12,1454.29 215.54,1451.81 213.74,1450.05 216.23,1449.68" fill="#2e2e2e"/>
<text x="77.41" y="1683.80" font-size="16.30" font-weight="normal" font-style="normal" fill="#2c2c2c" textLength="21.87" lengthAdjust="spacingAndGlyphs" stroke="#2c2c2c" stroke-width="0.2">CK</text>
<text x="162.26" y="1683.80" font-size="16.30" font-weight="normal" font-style="normal" fill="#2c2c2c" textLength="14.21" lengthAdjust="spacingAndGlyphs" stroke="#2c2c2c" stroke-width="0.2">Al</text>
<text x="226.26" y="1683.80" font-size="16.30" font-weight="normal" font-style="normal" fill="#2c2c2c" textLength="46.29" lengthAdjust="spacingAndGlyphs" stroke="#2c2c2c" stroke-width="0.2">Al+NO</text>
<text x="407.53" y="1417.70" font-size="17.60" font-weight="normal" font-style="normal" fill="#3e3e3e" textLength="149.27" lengthAdjust="spacingAndGlyphs" stroke="#3e3e3e" stroke-width="0.3">Cla97C09G177060</text>
<text transform="translate(342.80,1647.58) rotate(-90)" x="0" y="0" font-size="15.44" fill="#383838" textLength="172.02" lengthAdjust="spacingAndGlyphs" stroke="#383838" stroke-width="0.2">Relative expression level</text>
<line x1="367.30" y1="1445.70" x2="367.30" y2="1668.40" stroke="#8a8a8a" stroke-width="1.4"/>
<line x1="366.60" y1="1667.70" x2="609.60" y2="1667.70" stroke="#8a8a8a" stroke-width="1.4"/>
<line x1="363.10" y1="1667.70" x2="367.30" y2="1667.70" stroke="#8a8a8a" stroke-width="1.3"/>
<text x="355.16" y="1671.60" font-size="10.80" font-weight="normal" font-style="normal" fill="#484848" textLength="5.53" lengthAdjust="spacingAndGlyphs" stroke="#484848" stroke-width="0.45">0</text>
<line x1="363.10" y1="1639.95" x2="367.30" y2="1639.95" stroke="#8a8a8a" stroke-width="1.3"/>
<text x="355.28" y="1643.85" font-size="10.80" font-weight="normal" font-style="normal" fill="#484848" textLength="5.53" lengthAdjust="spacingAndGlyphs" stroke="#484848" stroke-width="0.45">2</text>
<line x1="363.10" y1="1612.20" x2="367.30" y2="1612.20" stroke="#8a8a8a" stroke-width="1.3"/>
<text x="355.06" y="1616.10" font-size="10.80" font-weight="normal" font-style="normal" fill="#484848" textLength="5.53" lengthAdjust="spacingAndGlyphs" stroke="#484848" stroke-width="0.45">4</text>
<line x1="363.10" y1="1584.45" x2="367.30" y2="1584.45" stroke="#8a8a8a" stroke-width="1.3"/>
<text x="355.21" y="1588.35" font-size="10.80" font-weight="normal" font-style="normal" fill="#484848" textLength="5.53" lengthAdjust="spacingAndGlyphs" stroke="#484848" stroke-width="0.45">6</text>
<line x1="363.10" y1="1556.70" x2="367.30" y2="1556.70" stroke="#8a8a8a" stroke-width="1.3"/>
<text x="355.21" y="1560.60" font-size="10.80" font-weight="normal" font-style="normal" fill="#484848" textLength="5.53" lengthAdjust="spacingAndGlyphs" stroke="#484848" stroke-width="0.45">8</text>
<line x1="363.10" y1="1528.95" x2="367.30" y2="1528.95" stroke="#8a8a8a" stroke-width="1.3"/>
<text x="349.64" y="1532.85" font-size="10.80" font-weight="normal" font-style="normal" fill="#484848" textLength="11.05" lengthAdjust="spacingAndGlyphs" stroke="#484848" stroke-width="0.45">10</text>
<line x1="363.10" y1="1501.20" x2="367.30" y2="1501.20" stroke="#8a8a8a" stroke-width="1.3"/>
<text x="349.77" y="1505.10" font-size="10.80" font-weight="normal" font-style="normal" fill="#484848" textLength="11.05" lengthAdjust="spacingAndGlyphs" stroke="#484848" stroke-width="0.45">12</text>
<line x1="363.10" y1="1473.45" x2="367.30" y2="1473.45" stroke="#8a8a8a" stroke-width="1.3"/>
<text x="349.54" y="1477.35" font-size="10.80" font-weight="normal" font-style="normal" fill="#484848" textLength="11.05" lengthAdjust="spacingAndGlyphs" stroke="#484848" stroke-width="0.45">14</text>
<line x1="363.10" y1="1445.70" x2="367.30" y2="1445.70" stroke="#8a8a8a" stroke-width="1.3"/>
<text x="349.69" y="1449.60" font-size="10.80" font-weight="normal" font-style="normal" fill="#484848" textLength="11.05" lengthAdjust="spacingAndGlyphs" stroke="#484848" stroke-width="0.45">16</text>
<rect x="383.90" y="1653.40" width="48.60" height="14.30" fill="#7d7d80"/>
<rect x="464.50" y="1615.40" width="48.70" height="52.30" fill="#7d7d80"/>
<rect x="545.70" y="1476.30" width="48.20" height="191.40" fill="#7d7d80"/>
<line x1="408.40" y1="1649.30" x2="408.40" y2="1657.90" stroke="#4a4a4a" stroke-width="1.1"/>
<line x1="406.60" y1="1649.30" x2="410.20" y2="1649.30" stroke="#4a4a4a" stroke-width="1.2"/>
<line x1="406.60" y1="1657.90" x2="410.20" y2="1657.90" stroke="#4a4a4a" stroke-width="1.2"/>
<line x1="488.90" y1="1608.20" x2="488.90" y2="1622.50" stroke="#4a4a4a" stroke-width="1.1"/>
<line x1="487.10" y1="1608.20" x2="490.70" y2="1608.20" stroke="#4a4a4a" stroke-width="1.2"/>
<line x1="487.10" y1="1622.50" x2="490.70" y2="1622.50" stroke="#4a4a4a" stroke-width="1.2"/>
<line x1="569.30" y1="1473.00" x2="569.30" y2="1478.40" stroke="#4a4a4a" stroke-width="1.1"/>
<line x1="567.50" y1="1473.00" x2="571.10" y2="1473.00" stroke="#4a4a4a" stroke-width="1.2"/>
<line x1="567.50" y1="1478.40" x2="571.10" y2="1478.40" stroke="#4a4a4a" stroke-width="1.2"/>
<path d="M409.30,1457.90 L409.30,1450.50 L570.40,1450.50 L570.40,1459.60" fill="none" stroke="#8e8e8e" stroke-width="1.5"/>
<path d="M409.30,1472.50 L409.30,1462.60 L483.60,1462.60 L483.60,1472.50" fill="none" stroke="#8e8e8e" stroke-width="1.5"/>
<path d="M492.10,1472.50 L492.10,1462.60 L569.80,1462.60 L569.80,1474.00" fill="none" stroke="#8e8e8e" stroke-width="1.5"/>
<polygon points="484.45,1439.42 485.57,1441.68 488.06,1442.05 486.26,1443.81 486.68,1446.29 484.45,1445.12 482.22,1446.29 482.64,1443.81 480.84,1442.05 483.33,1441.68" fill="#2e2e2e"/>
<polygon points="492.05,1439.42 493.17,1441.68 495.66,1442.05 493.86,1443.81 494.28,1446.29 492.05,1445.12 489.82,1446.29 490.24,1443.81 488.44,1442.05 490.93,1441.68" fill="#2e2e2e"/>
<polygon points="448.15,1454.52 449.27,1456.78 451.76,1457.15 449.96,1458.91 450.38,1461.39 448.15,1460.22 445.92,1461.39 446.34,1458.91 444.54,1457.15 447.03,1456.78" fill="#2e2e2e"/>
<polygon points="529.75,1453.12 530.87,1455.38 533.36,1455.75 531.56,1457.51 531.98,1459.99 529.75,1458.82 527.52,1459.99 527.94,1457.51 526.14,1455.75 528.63,1455.38" fill="#2e2e2e"/>
<polygon points="537.35,1453.12 538.47,1455.38 540.96,1455.75 539.16,1457.51 539.58,1459.99 537.35,1458.82 535.12,1459.99 535.54,1457.51 533.74,1455.75 536.23,1455.38" fill="#2e2e2e"/>
<text x="396.89" y="1683.80" font-size="16.30" font-weight="normal" font-style="normal" fill="#2c2c2c" textLength="22.39" lengthAdjust="spacingAndGlyphs" stroke="#2c2c2c" stroke-width="0.2">CK</text>
<text x="482.26" y="1683.80" font-size="16.30" font-weight="normal" font-style="normal" fill="#2c2c2c" textLength="13.55" lengthAdjust="spacingAndGlyphs" stroke="#2c2c2c" stroke-width="0.2">Al</text>
<text x="545.36" y="1683.80" font-size="16.30" font-weight="normal" font-style="normal" fill="#2c2c2c" textLength="46.70" lengthAdjust="spacingAndGlyphs" stroke="#2c2c2c" stroke-width="0.2">Al+NO</text>
</g>
</svg>
</body></html>
